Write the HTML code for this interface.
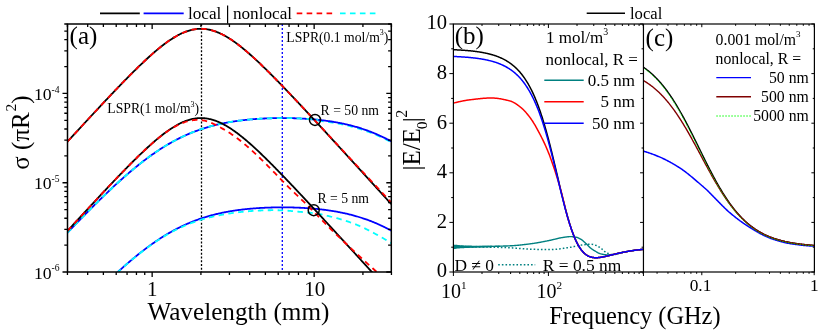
<!DOCTYPE html>
<html><head><meta charset="utf-8"><title>figure</title>
<style>html,body{margin:0;padding:0;background:#fff;}body{width:830px;height:333px;overflow:hidden;font-family:"Liberation Serif",serif;}svg text{font-family:"Liberation Serif",serif;}</style></head>
<body>
<svg width="830" height="333" viewBox="0 0 830 333" style="display:block;will-change:transform">
<rect x="0" y="0" width="830" height="333" fill="#fff"/>
<defs>
<clipPath id="ca"><rect x="67.50" y="24.00" width="323.80" height="248.00"/></clipPath>
<clipPath id="cb"><rect x="453.40" y="24.00" width="190.05" height="248.00"/></clipPath>
<clipPath id="cc"><rect x="643.45" y="24.00" width="170.95" height="248.00"/></clipPath>
</defs>
<g clip-path="url(#ca)" fill="none" stroke-linejoin="round">
<line x1="201.5" y1="24.0" x2="201.5" y2="272.0" stroke="#000" stroke-width="1.3" stroke-dasharray="2 1.75"/>
<line x1="282.3" y1="24.0" x2="282.3" y2="272.0" stroke="#0000ff" stroke-width="1.3" stroke-dasharray="2 2"/>
<path d="M67.50,321.96 L68.31,321.11 L69.12,320.26 L69.93,319.41 L70.75,318.56 L71.56,317.71 L72.37,316.87 L73.18,316.02 L73.99,315.18 L74.80,314.34 L75.62,313.49 L76.43,312.65 L77.24,311.81 L78.05,310.98 L78.86,310.14 L79.67,309.30 L80.48,308.47 L81.30,307.64 L82.11,306.80 L82.92,305.97 L83.73,305.14 L84.54,304.32 L85.35,303.49 L86.17,302.67 L86.98,301.84 L87.79,301.02 L88.60,300.20 L89.41,299.38 L90.22,298.56 L91.03,297.75 L91.85,296.93 L92.66,296.12 L93.47,295.31 L94.28,294.50 L95.09,293.70 L95.90,292.89 L96.72,292.09 L97.53,291.29 L98.34,290.49 L99.15,289.69 L99.96,288.90 L100.77,288.10 L101.58,287.31 L102.40,286.52 L103.21,285.74 L104.02,284.95 L104.83,284.17 L105.64,283.39 L106.45,282.61 L107.26,281.84 L108.08,281.07 L108.89,280.29 L109.70,279.53 L110.51,278.76 L111.32,278.00 L112.13,277.24 L112.95,276.48 L113.76,275.73 L114.57,274.97 L115.38,274.22 L116.19,273.48 L117.00,272.73 L117.81,271.99 L118.63,271.26 L119.44,270.52 L120.25,269.79 L121.06,269.06 L121.87,268.34 L122.68,267.61 L123.50,266.89 L124.31,266.18 L125.12,265.47 L125.93,264.76 L126.74,264.05 L127.55,263.35 L128.36,262.65 L129.18,261.95 L129.99,261.26 L130.80,260.58 L131.61,259.89 L132.42,259.21 L133.23,258.53 L134.05,257.86 L134.86,257.19 L135.67,256.53 L136.48,255.87 L137.29,255.21 L138.10,254.56 L138.91,253.91 L139.73,253.26 L140.54,252.62 L141.35,251.99 L142.16,251.35 L142.97,250.73 L143.78,250.10 L144.60,249.48 L145.41,248.87 L146.22,248.26 L147.03,247.65 L147.84,247.05 L148.65,246.45 L149.46,245.86 L150.28,245.28 L151.09,244.69 L151.90,244.11 L152.71,243.54 L153.52,242.97 L154.33,242.41 L155.15,241.85 L155.96,241.30 L156.77,240.75 L157.58,240.20 L158.39,239.67 L159.20,239.13 L160.01,238.60 L160.83,238.08 L161.64,237.56 L162.45,237.04 L163.26,236.54 L164.07,236.03 L164.88,235.53 L165.69,235.04 L166.51,234.55 L167.32,234.07 L168.13,233.59 L168.94,233.12 L169.75,232.65 L170.56,232.19 L171.38,231.73 L172.19,231.28 L173.00,230.83 L173.81,230.39 L174.62,229.95 L175.43,229.52 L176.24,229.09 L177.06,228.67 L177.87,228.26 L178.68,227.85 L179.49,227.44 L180.30,227.04 L181.11,226.65 L181.93,226.26 L182.74,225.87 L183.55,225.49 L184.36,225.12 L185.17,224.75 L185.98,224.38 L186.79,224.02 L187.61,223.67 L188.42,223.32 L189.23,222.97 L190.04,222.63 L190.85,222.30 L191.66,221.97 L192.48,221.64 L193.29,221.32 L194.10,221.01 L194.91,220.70 L195.72,220.39 L196.53,220.09 L197.34,219.80 L198.16,219.50 L198.97,219.22 L199.78,218.94 L200.59,218.66 L201.40,218.38 L202.21,218.12 L203.03,217.85 L203.84,217.59 L204.65,217.34 L205.46,217.08 L206.27,216.84 L207.08,216.59 L207.89,216.36 L208.71,216.12 L209.52,215.89 L210.33,215.67 L211.14,215.44 L211.95,215.23 L212.76,215.01 L213.58,214.80 L214.39,214.60 L215.20,214.39 L216.01,214.19 L216.82,214.00 L217.63,213.81 L218.44,213.62 L219.26,213.44 L220.07,213.26 L220.88,213.08 L221.69,212.91 L222.50,212.74 L223.31,212.57 L224.13,212.41 L224.94,212.25 L225.75,212.09 L226.56,211.94 L227.37,211.79 L228.18,211.64 L228.99,211.50 L229.81,211.36 L230.62,211.22 L231.43,211.09 L232.24,210.95 L233.05,210.83 L233.86,210.70 L234.67,210.58 L235.49,210.46 L236.30,210.34 L237.11,210.23 L237.92,210.11 L238.73,210.00 L239.54,209.90 L240.36,209.79 L241.17,209.69 L241.98,209.59 L242.79,209.50 L243.60,209.40 L244.41,209.31 L245.22,209.22 L246.04,209.14 L246.85,209.05 L247.66,208.97 L248.47,208.89 L249.28,208.82 L250.09,208.74 L250.91,208.67 L251.72,208.60 L252.53,208.53 L253.34,208.46 L254.15,208.40 L254.96,208.34 L255.77,208.28 L256.59,208.22 L257.40,208.16 L258.21,208.11 L259.02,208.06 L259.83,208.01 L260.64,207.96 L261.46,207.91 L262.27,207.87 L263.08,207.83 L263.89,207.79 L264.70,207.75 L265.51,207.71 L266.32,207.67 L267.14,207.64 L267.95,207.61 L268.76,207.58 L269.57,207.55 L270.38,207.53 L271.19,207.50 L272.01,207.48 L272.82,207.46 L273.63,207.44 L274.44,207.42 L275.25,207.41 L276.06,207.39 L276.87,207.38 L277.69,207.37 L278.50,207.36 L279.31,207.36 L280.12,207.35 L280.93,207.35 L281.74,207.34 L282.56,207.34 L283.37,207.35 L284.18,207.35 L284.99,207.35 L285.80,207.36 L286.61,207.37 L287.42,207.38 L288.24,207.39 L289.05,207.40 L289.86,207.42 L290.67,207.43 L291.48,207.45 L292.29,207.47 L293.11,207.49 L293.92,207.52 L294.73,207.54 L295.54,207.57 L296.35,207.60 L297.16,207.63 L297.97,207.66 L298.79,207.70 L299.60,207.73 L300.41,207.77 L301.22,207.81 L302.03,207.85 L302.84,207.89 L303.65,207.94 L304.47,207.99 L305.28,208.04 L306.09,208.09 L306.90,208.14 L307.71,208.20 L308.52,208.25 L309.34,208.31 L310.15,208.37 L310.96,208.44 L311.77,208.50 L312.58,208.57 L313.39,208.64 L314.20,208.71 L315.02,208.79 L315.83,208.86 L316.64,208.94 L317.45,209.02 L318.26,209.10 L319.07,209.19 L319.89,209.28 L320.70,209.37 L321.51,209.46 L322.32,209.56 L323.13,209.65 L323.94,209.75 L324.75,209.86 L325.57,209.96 L326.38,210.07 L327.19,210.18 L328.00,210.29 L328.81,210.41 L329.62,210.53 L330.44,210.65 L331.25,210.78 L332.06,210.90 L332.87,211.03 L333.68,211.17 L334.49,211.30 L335.30,211.44 L336.12,211.58 L336.93,211.73 L337.74,211.88 L338.55,212.03 L339.36,212.19 L340.17,212.34 L340.99,212.51 L341.80,212.67 L342.61,212.84 L343.42,213.01 L344.23,213.19 L345.04,213.36 L345.85,213.55 L346.67,213.73 L347.48,213.92 L348.29,214.12 L349.10,214.31 L349.91,214.51 L350.72,214.72 L351.54,214.93 L352.35,215.14 L353.16,215.36 L353.97,215.58 L354.78,215.80 L355.59,216.03 L356.40,216.26 L357.22,216.50 L358.03,216.74 L358.84,216.99 L359.65,217.24 L360.46,217.49 L361.27,217.75 L362.08,218.01 L362.90,218.28 L363.71,218.55 L364.52,218.82 L365.33,219.11 L366.14,219.39 L366.95,219.68 L367.77,219.97 L368.58,220.27 L369.39,220.58 L370.20,220.89 L371.01,221.20 L371.82,221.52 L372.63,221.84 L373.45,222.17 L374.26,222.50 L375.07,222.84 L375.88,223.18 L376.69,223.53 L377.50,223.88 L378.32,224.24 L379.13,224.60 L379.94,224.97 L380.75,225.34 L381.56,225.72 L382.37,226.10 L383.18,226.49 L384.00,226.88 L384.81,227.28 L385.62,227.69 L386.43,228.09 L387.24,228.51 L388.05,228.93 L388.87,229.35 L389.68,229.78 L390.49,230.21 L391.30,230.65" stroke="#0000ff" stroke-width="1.80" />
<path d="M67.50,321.96 L68.31,321.11 L69.12,320.26 L69.93,319.41 L70.75,318.57 L71.56,317.72 L72.37,316.87 L73.18,316.03 L73.99,315.19 L74.80,314.34 L75.62,313.50 L76.43,312.66 L77.24,311.82 L78.05,310.99 L78.86,310.15 L79.67,309.32 L80.48,308.48 L81.30,307.65 L82.11,306.82 L82.92,305.99 L83.73,305.16 L84.54,304.34 L85.35,303.51 L86.17,302.69 L86.98,301.87 L87.79,301.05 L88.60,300.23 L89.41,299.41 L90.22,298.59 L91.03,297.78 L91.85,296.97 L92.66,296.16 L93.47,295.35 L94.28,294.54 L95.09,293.74 L95.90,292.93 L96.72,292.13 L97.53,291.33 L98.34,290.54 L99.15,289.74 L99.96,288.95 L100.77,288.16 L101.58,287.37 L102.40,286.58 L103.21,285.80 L104.02,285.01 L104.83,284.23 L105.64,283.46 L106.45,282.68 L107.26,281.91 L108.08,281.14 L108.89,280.37 L109.70,279.60 L110.51,278.84 L111.32,278.08 L112.13,277.32 L112.95,276.57 L113.76,275.82 L114.57,275.07 L115.38,274.32 L116.19,273.58 L117.00,272.84 L117.81,272.10 L118.63,271.36 L119.44,270.63 L120.25,269.90 L121.06,269.18 L121.87,268.45 L122.68,267.74 L123.50,267.02 L124.31,266.31 L125.12,265.60 L125.93,264.89 L126.74,264.19 L127.55,263.49 L128.36,262.80 L129.18,262.10 L129.99,261.42 L130.80,260.73 L131.61,260.05 L132.42,259.37 L133.23,258.70 L134.05,258.03 L134.86,257.37 L135.67,256.70 L136.48,256.05 L137.29,255.39 L138.10,254.74 L138.91,254.10 L139.73,253.46 L140.54,252.82 L141.35,252.19 L142.16,251.56 L142.97,250.94 L143.78,250.32 L144.60,249.70 L145.41,249.09 L146.22,248.48 L147.03,247.88 L147.84,247.29 L148.65,246.69 L149.46,246.11 L150.28,245.52 L151.09,244.94 L151.90,244.37 L152.71,243.80 L153.52,243.24 L154.33,242.68 L155.15,242.12 L155.96,241.57 L156.77,241.03 L157.58,240.49 L158.39,239.96 L159.20,239.43 L160.01,238.90 L160.83,238.38 L161.64,237.87 L162.45,237.36 L163.26,236.86 L164.07,236.37 L164.88,235.88 L165.69,235.39 L166.51,234.92 L167.32,234.44 L168.13,233.98 L168.94,233.52 L169.75,233.06 L170.56,232.62 L171.38,232.17 L172.19,231.74 L173.00,231.31 L173.81,230.88 L174.62,230.46 L175.43,230.05 L176.24,229.64 L177.06,229.24 L177.87,228.84 L178.68,228.45 L179.49,228.07 L180.30,227.69 L181.11,227.32 L181.93,226.95 L182.74,226.58 L183.55,226.23 L184.36,225.88 L185.17,225.53 L185.98,225.19 L186.79,224.85 L187.61,224.52 L188.42,224.20 L189.23,223.88 L190.04,223.56 L190.85,223.26 L191.66,222.95 L192.48,222.65 L193.29,222.36 L194.10,222.07 L194.91,221.78 L195.72,221.50 L196.53,221.23 L197.34,220.96 L198.16,220.70 L198.97,220.44 L199.78,220.18 L200.59,219.93 L201.40,219.68 L202.21,219.44 L203.03,219.20 L203.84,218.97 L204.65,218.74 L205.46,218.51 L206.27,218.29 L207.08,218.08 L207.89,217.86 L208.71,217.65 L209.52,217.45 L210.33,217.25 L211.14,217.05 L211.95,216.86 L212.76,216.67 L213.58,216.48 L214.39,216.30 L215.20,216.12 L216.01,215.95 L216.82,215.77 L217.63,215.60 L218.44,215.44 L219.26,215.28 L220.07,215.12 L220.88,214.96 L221.69,214.81 L222.50,214.66 L223.31,214.51 L224.13,214.37 L224.94,214.22 L225.75,214.09 L226.56,213.95 L227.37,213.82 L228.18,213.69 L228.99,213.56 L229.81,213.43 L230.62,213.31 L231.43,213.19 L232.24,213.07 L233.05,212.96 L233.86,212.85 L234.67,212.74 L235.49,212.63 L236.30,212.53 L237.11,212.42 L237.92,212.32 L238.73,212.23 L239.54,212.13 L240.36,212.04 L241.17,211.95 L241.98,211.86 L242.79,211.78 L243.60,211.70 L244.41,211.62 L245.22,211.54 L246.04,211.46 L246.85,211.39 L247.66,211.32 L248.47,211.25 L249.28,211.18 L250.09,211.12 L250.91,211.06 L251.72,211.00 L252.53,210.94 L253.34,210.88 L254.15,210.83 L254.96,210.78 L255.77,210.73 L256.59,210.68 L257.40,210.64 L258.21,210.60 L259.02,210.56 L259.83,210.52 L260.64,210.49 L261.46,210.45 L262.27,210.42 L263.08,210.39 L263.89,210.37 L264.70,210.34 L265.51,210.32 L266.32,210.30 L267.14,210.28 L267.95,210.26 L268.76,210.25 L269.57,210.24 L270.38,210.23 L271.19,210.22 L272.01,210.22 L272.82,210.22 L273.63,210.22 L274.44,210.22 L275.25,210.22 L276.06,210.23 L276.87,210.24 L277.69,210.25 L278.50,210.26 L279.31,210.28 L280.12,210.29 L280.93,210.31 L281.74,210.34 L282.56,210.36 L283.37,210.40 L284.18,210.44 L284.99,210.48 L285.80,210.54 L286.61,210.60 L287.42,210.66 L288.24,210.73 L289.05,210.80 L289.86,210.87 L290.67,210.95 L291.48,211.03 L292.29,211.11 L293.11,211.19 L293.92,211.27 L294.73,211.35 L295.54,211.43 L296.35,211.51 L297.16,211.59 L297.97,211.66 L298.79,211.73 L299.60,211.80 L300.41,211.87 L301.22,211.94 L302.03,212.01 L302.84,212.08 L303.65,212.15 L304.47,212.23 L305.28,212.30 L306.09,212.37 L306.90,212.45 L307.71,212.53 L308.52,212.61 L309.34,212.69 L310.15,212.77 L310.96,212.86 L311.77,212.95 L312.58,213.05 L313.39,213.14 L314.20,213.24 L315.02,213.35 L315.83,213.46 L316.64,213.57 L317.45,213.69 L318.26,213.82 L319.07,213.95 L319.89,214.08 L320.70,214.23 L321.51,214.40 L322.32,214.59 L323.13,214.78 L323.94,214.98 L324.75,215.18 L325.57,215.38 L326.38,215.58 L327.19,215.77 L328.00,215.96 L328.81,216.16 L329.62,216.35 L330.44,216.55 L331.25,216.75 L332.06,216.95 L332.87,217.15 L333.68,217.36 L334.49,217.57 L335.30,217.78 L336.12,217.99 L336.93,218.21 L337.74,218.43 L338.55,218.66 L339.36,218.89 L340.17,219.12 L340.99,219.36 L341.80,219.60 L342.61,219.85 L343.42,220.10 L344.23,220.36 L345.04,220.61 L345.85,220.88 L346.67,221.14 L347.48,221.41 L348.29,221.69 L349.10,221.97 L349.91,222.25 L350.72,222.54 L351.54,222.83 L352.35,223.13 L353.16,223.43 L353.97,223.74 L354.78,224.05 L355.59,224.36 L356.40,224.69 L357.22,225.02 L358.03,225.35 L358.84,225.69 L359.65,226.04 L360.46,226.39 L361.27,226.76 L362.08,227.13 L362.90,227.51 L363.71,227.89 L364.52,228.28 L365.33,228.68 L366.14,229.08 L366.95,229.49 L367.77,229.90 L368.58,230.31 L369.39,230.73 L370.20,231.16 L371.01,231.58 L371.82,232.01 L372.63,232.44 L373.45,232.87 L374.26,233.30 L375.07,233.74 L375.88,234.17 L376.69,234.61 L377.50,235.05 L378.32,235.49 L379.13,235.94 L379.94,236.39 L380.75,236.85 L381.56,237.30 L382.37,237.77 L383.18,238.23 L384.00,238.70 L384.81,239.18 L385.62,239.66 L386.43,240.14 L387.24,240.63 L388.05,241.12 L388.87,241.62 L389.68,242.12 L390.49,242.63 L391.30,243.14" stroke="#00ffff" stroke-width="1.80" stroke-dasharray="5.5 4.4" />
<path d="M318.26,120.73 L319.07,120.82 L319.89,120.91 L320.70,121.00 L321.51,121.09 L322.32,121.19 L323.13,121.28 L323.94,121.38 L324.75,121.49 L325.57,121.59 L326.38,121.70 L327.19,121.81 L328.00,121.92 L328.81,122.04 L329.62,122.16 L330.44,122.28 L331.25,122.41 L332.06,122.53 L332.87,122.66 L333.68,122.80 L334.49,122.93 L335.30,123.07 L336.12,123.21 L336.93,123.36 L337.74,123.51 L338.55,123.66 L339.36,123.82 L340.17,123.97 L340.99,124.14 L341.80,124.30 L342.61,124.47 L343.42,124.64 L344.23,124.82 L345.04,124.99 L345.85,125.18 L346.67,125.36 L347.48,125.55 L348.29,125.75 L349.10,125.94 L349.91,126.14 L350.72,126.35 L351.54,126.56 L352.35,126.77 L353.16,126.99 L353.97,127.21 L354.78,127.43 L355.59,127.66 L356.40,127.89 L357.22,128.13 L358.03,128.37 L358.84,128.62 L359.65,128.87 L360.46,129.12 L361.27,129.38 L362.08,129.64 L362.90,129.91 L363.71,130.18 L364.52,130.45 L365.33,130.74 L366.14,131.02 L366.95,131.31 L367.77,131.60 L368.58,131.90 L369.39,132.21 L370.20,132.52 L371.01,132.83 L371.82,133.15 L372.63,133.47 L373.45,133.80 L374.26,134.13 L375.07,134.47 L375.88,134.81 L376.69,135.16 L377.50,135.51 L378.32,135.87 L379.13,136.23 L379.94,136.60 L380.75,136.97 L381.56,137.35 L382.37,137.73 L383.18,138.12 L384.00,138.51 L384.81,138.91 L385.62,139.32 L386.43,139.72 L387.24,140.14 L388.05,140.56 L388.87,140.98 L389.68,141.41 L390.49,141.84 L391.30,142.28" stroke="#00ffff" stroke-width="1.80" stroke-dasharray="5.5 4.4" />
<path d="M67.50,232.69 L68.31,231.84 L69.12,230.99 L69.93,230.14 L70.75,229.29 L71.56,228.44 L72.37,227.60 L73.18,226.75 L73.99,225.91 L74.80,225.07 L75.62,224.22 L76.43,223.38 L77.24,222.54 L78.05,221.71 L78.86,220.87 L79.67,220.03 L80.48,219.20 L81.30,218.37 L82.11,217.53 L82.92,216.70 L83.73,215.87 L84.54,215.05 L85.35,214.22 L86.17,213.40 L86.98,212.57 L87.79,211.75 L88.60,210.93 L89.41,210.11 L90.22,209.29 L91.03,208.48 L91.85,207.66 L92.66,206.85 L93.47,206.04 L94.28,205.23 L95.09,204.43 L95.90,203.62 L96.72,202.82 L97.53,202.02 L98.34,201.22 L99.15,200.42 L99.96,199.63 L100.77,198.83 L101.58,198.04 L102.40,197.25 L103.21,196.47 L104.02,195.68 L104.83,194.90 L105.64,194.12 L106.45,193.34 L107.26,192.57 L108.08,191.80 L108.89,191.02 L109.70,190.26 L110.51,189.49 L111.32,188.73 L112.13,187.97 L112.95,187.21 L113.76,186.46 L114.57,185.70 L115.38,184.95 L116.19,184.21 L117.00,183.46 L117.81,182.72 L118.63,181.99 L119.44,181.25 L120.25,180.52 L121.06,179.79 L121.87,179.07 L122.68,178.34 L123.50,177.62 L124.31,176.91 L125.12,176.20 L125.93,175.49 L126.74,174.78 L127.55,174.08 L128.36,173.38 L129.18,172.68 L129.99,171.99 L130.80,171.31 L131.61,170.62 L132.42,169.94 L133.23,169.26 L134.05,168.59 L134.86,167.92 L135.67,167.26 L136.48,166.60 L137.29,165.94 L138.10,165.29 L138.91,164.64 L139.73,163.99 L140.54,163.35 L141.35,162.72 L142.16,162.08 L142.97,161.46 L143.78,160.83 L144.60,160.21 L145.41,159.60 L146.22,158.99 L147.03,158.38 L147.84,157.78 L148.65,157.18 L149.46,156.59 L150.28,156.01 L151.09,155.42 L151.90,154.84 L152.71,154.27 L153.52,153.70 L154.33,153.14 L155.15,152.58 L155.96,152.03 L156.77,151.48 L157.58,150.93 L158.39,150.40 L159.20,149.86 L160.01,149.33 L160.83,148.81 L161.64,148.29 L162.45,147.77 L163.26,147.27 L164.07,146.76 L164.88,146.26 L165.69,145.77 L166.51,145.28 L167.32,144.80 L168.13,144.32 L168.94,143.85 L169.75,143.38 L170.56,142.92 L171.38,142.46 L172.19,142.01 L173.00,141.56 L173.81,141.12 L174.62,140.68 L175.43,140.25 L176.24,139.82 L177.06,139.40 L177.87,138.99 L178.68,138.58 L179.49,138.17 L180.30,137.77 L181.11,137.38 L181.93,136.99 L182.74,136.60 L183.55,136.22 L184.36,135.85 L185.17,135.48 L185.98,135.11 L186.79,134.75 L187.61,134.40 L188.42,134.05 L189.23,133.70 L190.04,133.36 L190.85,133.03 L191.66,132.70 L192.48,132.37 L193.29,132.05 L194.10,131.74 L194.91,131.43 L195.72,131.12 L196.53,130.82 L197.34,130.53 L198.16,130.23 L198.97,129.95 L199.78,129.67 L200.59,129.39 L201.40,129.11 L202.21,128.85 L203.03,128.58 L203.84,128.32 L204.65,128.07 L205.46,127.81 L206.27,127.57 L207.08,127.32 L207.89,127.09 L208.71,126.85 L209.52,126.62 L210.33,126.40 L211.14,126.17 L211.95,125.96 L212.76,125.74 L213.58,125.53 L214.39,125.33 L215.20,125.12 L216.01,124.92 L216.82,124.73 L217.63,124.54 L218.44,124.35 L219.26,124.17 L220.07,123.99 L220.88,123.81 L221.69,123.64 L222.50,123.47 L223.31,123.30 L224.13,123.14 L224.94,122.98 L225.75,122.82 L226.56,122.67 L227.37,122.52 L228.18,122.37 L228.99,122.23 L229.81,122.09 L230.62,121.95 L231.43,121.82 L232.24,121.68 L233.05,121.56 L233.86,121.43 L234.67,121.31 L235.49,121.19 L236.30,121.07 L237.11,120.96 L237.92,120.84 L238.73,120.73 L239.54,120.63 L240.36,120.52 L241.17,120.42 L241.98,120.32 L242.79,120.23 L243.60,120.13 L244.41,120.04 L245.22,119.95 L246.04,119.87 L246.85,119.78 L247.66,119.70 L248.47,119.62 L249.28,119.55 L250.09,119.47 L250.91,119.40 L251.72,119.33 L252.53,119.26 L253.34,119.19 L254.15,119.13 L254.96,119.07 L255.77,119.01 L256.59,118.95 L257.40,118.89 L258.21,118.84 L259.02,118.79 L259.83,118.74 L260.64,118.69 L261.46,118.64 L262.27,118.60 L263.08,118.56 L263.89,118.52 L264.70,118.48 L265.51,118.44 L266.32,118.40 L267.14,118.37 L267.95,118.34 L268.76,118.31 L269.57,118.28 L270.38,118.26 L271.19,118.23 L272.01,118.21 L272.82,118.19 L273.63,118.17 L274.44,118.15 L275.25,118.14 L276.06,118.12 L276.87,118.11 L277.69,118.10 L278.50,118.09 L279.31,118.09 L280.12,118.08 L280.93,118.08 L281.74,118.07 L282.56,118.07 L283.37,118.08 L284.18,118.08 L284.99,118.08 L285.80,118.09 L286.61,118.10 L287.42,118.11 L288.24,118.12 L289.05,118.13 L289.86,118.15 L290.67,118.16 L291.48,118.18 L292.29,118.20 L293.11,118.22 L293.92,118.25 L294.73,118.27 L295.54,118.30 L296.35,118.33 L297.16,118.36 L297.97,118.39 L298.79,118.43 L299.60,118.46 L300.41,118.50 L301.22,118.54 L302.03,118.58 L302.84,118.62 L303.65,118.67 L304.47,118.72 L305.28,118.77 L306.09,118.82 L306.90,118.87 L307.71,118.93 L308.52,118.98 L309.34,119.04 L310.15,119.10 L310.96,119.17 L311.77,119.23 L312.58,119.30 L313.39,119.37 L314.20,119.44 L315.02,119.52 L315.83,119.59 L316.64,119.67 L317.45,119.75 L318.26,119.83 L319.07,119.92 L319.89,120.01 L320.70,120.10 L321.51,120.19 L322.32,120.29 L323.13,120.38 L323.94,120.48 L324.75,120.59 L325.57,120.69 L326.38,120.80 L327.19,120.91 L328.00,121.02 L328.81,121.14 L329.62,121.26 L330.44,121.38 L331.25,121.51 L332.06,121.63 L332.87,121.76 L333.68,121.90 L334.49,122.03 L335.30,122.17 L336.12,122.31 L336.93,122.46 L337.74,122.61 L338.55,122.76 L339.36,122.92 L340.17,123.07 L340.99,123.24 L341.80,123.40 L342.61,123.57 L343.42,123.74 L344.23,123.92 L345.04,124.09 L345.85,124.28 L346.67,124.46 L347.48,124.65 L348.29,124.85 L349.10,125.04 L349.91,125.24 L350.72,125.45 L351.54,125.66 L352.35,125.87 L353.16,126.09 L353.97,126.31 L354.78,126.53 L355.59,126.76 L356.40,126.99 L357.22,127.23 L358.03,127.47 L358.84,127.72 L359.65,127.97 L360.46,128.22 L361.27,128.48 L362.08,128.74 L362.90,129.01 L363.71,129.28 L364.52,129.55 L365.33,129.84 L366.14,130.12 L366.95,130.41 L367.77,130.70 L368.58,131.00 L369.39,131.31 L370.20,131.62 L371.01,131.93 L371.82,132.25 L372.63,132.57 L373.45,132.90 L374.26,133.23 L375.07,133.57 L375.88,133.91 L376.69,134.26 L377.50,134.61 L378.32,134.97 L379.13,135.33 L379.94,135.70 L380.75,136.07 L381.56,136.45 L382.37,136.83 L383.18,137.22 L384.00,137.61 L384.81,138.01 L385.62,138.42 L386.43,138.82 L387.24,139.24 L388.05,139.66 L388.87,140.08 L389.68,140.51 L390.49,140.94 L391.30,141.38" stroke="#0000ff" stroke-width="1.80" />
<path d="M67.50,232.69 L68.31,231.84 L69.12,230.99 L69.93,230.14 L70.75,229.29 L71.56,228.44 L72.37,227.60 L73.18,226.75 L73.99,225.91 L74.80,225.07 L75.62,224.22 L76.43,223.38 L77.24,222.54 L78.05,221.71 L78.86,220.87 L79.67,220.03 L80.48,219.20 L81.30,218.37 L82.11,217.53 L82.92,216.70 L83.73,215.87 L84.54,215.05 L85.35,214.22 L86.17,213.40 L86.98,212.57 L87.79,211.75 L88.60,210.93 L89.41,210.11 L90.22,209.29 L91.03,208.48 L91.85,207.66 L92.66,206.85 L93.47,206.04 L94.28,205.23 L95.09,204.43 L95.90,203.62 L96.72,202.82 L97.53,202.02 L98.34,201.22 L99.15,200.42 L99.96,199.63 L100.77,198.83 L101.58,198.04 L102.40,197.25 L103.21,196.47 L104.02,195.68 L104.83,194.90 L105.64,194.12 L106.45,193.34 L107.26,192.57 L108.08,191.80 L108.89,191.02 L109.70,190.26 L110.51,189.49 L111.32,188.73 L112.13,187.97 L112.95,187.21 L113.76,186.46 L114.57,185.70 L115.38,184.95 L116.19,184.21 L117.00,183.46 L117.81,182.72 L118.63,181.99 L119.44,181.25 L120.25,180.52 L121.06,179.79 L121.87,179.07 L122.68,178.34 L123.50,177.62 L124.31,176.91 L125.12,176.20 L125.93,175.49 L126.74,174.78 L127.55,174.08 L128.36,173.38 L129.18,172.68 L129.99,171.99 L130.80,171.31 L131.61,170.62 L132.42,169.94 L133.23,169.26 L134.05,168.59 L134.86,167.92 L135.67,167.26 L136.48,166.60 L137.29,165.94 L138.10,165.29 L138.91,164.64 L139.73,163.99 L140.54,163.35 L141.35,162.72 L142.16,162.08 L142.97,161.46 L143.78,160.83 L144.60,160.21 L145.41,159.60 L146.22,158.99 L147.03,158.38 L147.84,157.78 L148.65,157.18 L149.46,156.59 L150.28,156.01 L151.09,155.42 L151.90,154.84 L152.71,154.27 L153.52,153.70 L154.33,153.14 L155.15,152.58 L155.96,152.03 L156.77,151.48 L157.58,150.93 L158.39,150.40 L159.20,149.86 L160.01,149.33 L160.83,148.81 L161.64,148.29 L162.45,147.77 L163.26,147.27 L164.07,146.76 L164.88,146.26 L165.69,145.77 L166.51,145.28 L167.32,144.80 L168.13,144.32 L168.94,143.85 L169.75,143.38 L170.56,142.92 L171.38,142.46 L172.19,142.01 L173.00,141.56 L173.81,141.12 L174.62,140.68 L175.43,140.25 L176.24,139.82 L177.06,139.40 L177.87,138.99 L178.68,138.58 L179.49,138.17 L180.30,137.77 L181.11,137.38 L181.93,136.99 L182.74,136.60 L183.55,136.22 L184.36,135.85 L185.17,135.48 L185.98,135.11 L186.79,134.75 L187.61,134.40 L188.42,134.05 L189.23,133.70 L190.04,133.36 L190.85,133.03 L191.66,132.70 L192.48,132.37 L193.29,132.05 L194.10,131.74 L194.91,131.43 L195.72,131.12 L196.53,130.82 L197.34,130.53 L198.16,130.23 L198.97,129.95 L199.78,129.67 L200.59,129.39 L201.40,129.11 L202.21,128.85 L203.03,128.58 L203.84,128.32 L204.65,128.07 L205.46,127.81 L206.27,127.57 L207.08,127.32 L207.89,127.09 L208.71,126.85 L209.52,126.62 L210.33,126.40 L211.14,126.17 L211.95,125.96 L212.76,125.74 L213.58,125.53 L214.39,125.33 L215.20,125.12 L216.01,124.92 L216.82,124.73 L217.63,124.54 L218.44,124.35 L219.26,124.17 L220.07,123.99 L220.88,123.81 L221.69,123.64 L222.50,123.47 L223.31,123.30 L224.13,123.14 L224.94,122.98 L225.75,122.82 L226.56,122.67 L227.37,122.52 L228.18,122.37 L228.99,122.23 L229.81,122.09 L230.62,121.95 L231.43,121.82 L232.24,121.68 L233.05,121.56 L233.86,121.43 L234.67,121.31 L235.49,121.19 L236.30,121.07 L237.11,120.96 L237.92,120.84 L238.73,120.73 L239.54,120.63 L240.36,120.52 L241.17,120.42 L241.98,120.32 L242.79,120.23 L243.60,120.13 L244.41,120.04 L245.22,119.95 L246.04,119.87 L246.85,119.78 L247.66,119.70 L248.47,119.62 L249.28,119.55 L250.09,119.47 L250.91,119.40 L251.72,119.33 L252.53,119.26 L253.34,119.19 L254.15,119.13 L254.96,119.07 L255.77,119.01 L256.59,118.95 L257.40,118.89 L258.21,118.84 L259.02,118.79 L259.83,118.74 L260.64,118.69 L261.46,118.64 L262.27,118.60 L263.08,118.56 L263.89,118.52 L264.70,118.48 L265.51,118.44 L266.32,118.40 L267.14,118.37 L267.95,118.34 L268.76,118.31 L269.57,118.28 L270.38,118.26 L271.19,118.23 L272.01,118.21 L272.82,118.19 L273.63,118.17 L274.44,118.15 L275.25,118.14 L276.06,118.12 L276.87,118.11 L277.69,118.10 L278.50,118.09 L279.31,118.09 L280.12,118.08 L280.93,118.08 L281.74,118.07 L282.56,118.07 L283.37,118.08 L284.18,118.08 L284.99,118.08 L285.80,118.09 L286.61,118.10 L287.42,118.11 L288.24,118.12 L289.05,118.13 L289.86,118.15 L290.67,118.16 L291.48,118.18 L292.29,118.20 L293.11,118.22 L293.92,118.25 L294.73,118.27 L295.54,118.30 L296.35,118.33 L297.16,118.36 L297.97,118.39 L298.79,118.43 L299.60,118.46 L300.41,118.50 L301.22,118.54 L302.03,118.58 L302.84,118.62 L303.65,118.67 L304.47,118.72 L305.28,118.77 L306.09,118.82 L306.90,118.87 L307.71,118.93 L308.52,118.98 L309.34,119.04 L310.15,119.10 L310.96,119.17 L311.77,119.23 L312.58,119.30 L313.39,119.37 L314.20,119.44 L315.02,119.52 L315.83,119.59 L316.64,119.67 L317.45,119.75 L318.26,119.83" stroke="#00ffff" stroke-width="1.80" stroke-dasharray="5.5 4.4" />
<path d="M67.50,230.91 L68.31,230.03 L69.12,229.14 L69.93,228.26 L70.75,227.37 L71.56,226.49 L72.37,225.61 L73.18,224.72 L73.99,223.84 L74.80,222.96 L75.62,222.08 L76.43,221.20 L77.24,220.31 L78.05,219.43 L78.86,218.55 L79.67,217.67 L80.48,216.79 L81.30,215.91 L82.11,215.03 L82.92,214.15 L83.73,213.28 L84.54,212.40 L85.35,211.52 L86.17,210.64 L86.98,209.77 L87.79,208.89 L88.60,208.01 L89.41,207.14 L90.22,206.26 L91.03,205.39 L91.85,204.52 L92.66,203.64 L93.47,202.77 L94.28,201.90 L95.09,201.03 L95.90,200.16 L96.72,199.29 L97.53,198.42 L98.34,197.55 L99.15,196.68 L99.96,195.81 L100.77,194.95 L101.58,194.08 L102.40,193.21 L103.21,192.35 L104.02,191.49 L104.83,190.62 L105.64,189.76 L106.45,188.90 L107.26,188.04 L108.08,187.18 L108.89,186.33 L109.70,185.47 L110.51,184.61 L111.32,183.76 L112.13,182.90 L112.95,182.05 L113.76,181.20 L114.57,180.35 L115.38,179.50 L116.19,178.65 L117.00,177.81 L117.81,176.96 L118.63,176.12 L119.44,175.28 L120.25,174.44 L121.06,173.60 L121.87,172.76 L122.68,171.93 L123.50,171.10 L124.31,170.26 L125.12,169.43 L125.93,168.61 L126.74,167.78 L127.55,166.96 L128.36,166.13 L129.18,165.32 L129.99,164.50 L130.80,163.68 L131.61,162.87 L132.42,162.06 L133.23,161.25 L134.05,160.45 L134.86,159.65 L135.67,158.85 L136.48,158.05 L137.29,157.26 L138.10,156.47 L138.91,155.68 L139.73,154.90 L140.54,154.12 L141.35,153.34 L142.16,152.57 L142.97,151.80 L143.78,151.03 L144.60,150.27 L145.41,149.51 L146.22,148.76 L147.03,148.01 L147.84,147.27 L148.65,146.53 L149.46,145.79 L150.28,145.06 L151.09,144.34 L151.90,143.62 L152.71,142.90 L153.52,142.20 L154.33,141.49 L155.15,140.80 L155.96,140.11 L156.77,139.42 L157.58,138.75 L158.39,138.07 L159.20,137.41 L160.01,136.75 L160.83,136.10 L161.64,135.46 L162.45,134.83 L163.26,134.20 L164.07,133.58 L164.88,132.98 L165.69,132.37 L166.51,131.78 L167.32,131.20 L168.13,130.63 L168.94,130.06 L169.75,129.51 L170.56,128.96 L171.38,128.43 L172.19,127.91 L173.00,127.40 L173.81,126.89 L174.62,126.40 L175.43,125.93 L176.24,125.46 L177.06,125.01 L177.87,124.56 L178.68,124.13 L179.49,123.72 L180.30,123.31 L181.11,122.92 L181.93,122.55 L182.74,122.18 L183.55,121.84 L184.36,121.50 L185.17,121.18 L185.98,120.88 L186.79,120.58 L187.61,120.31 L188.42,120.05 L189.23,119.80 L190.04,119.57 L190.85,119.36 L191.66,119.16 L192.48,118.98 L193.29,118.82 L194.10,118.67 L194.91,118.54 L195.72,118.42 L196.53,118.32 L197.34,118.24 L198.16,118.17 L198.97,118.12 L199.78,118.09 L200.59,118.08 L201.40,118.08 L202.21,118.10 L203.03,118.13 L203.84,118.18 L204.65,118.25 L205.46,118.34 L206.27,118.44 L207.08,118.56 L207.89,118.70 L208.71,118.85 L209.52,119.02 L210.33,119.20 L211.14,119.40 L211.95,119.62 L212.76,119.85 L213.58,120.10 L214.39,120.36 L215.20,120.64 L216.01,120.93 L216.82,121.24 L217.63,121.57 L218.44,121.90 L219.26,122.25 L220.07,122.62 L220.88,123.00 L221.69,123.39 L222.50,123.80 L223.31,124.22 L224.13,124.65 L224.94,125.09 L225.75,125.55 L226.56,126.02 L227.37,126.50 L228.18,126.99 L228.99,127.50 L229.81,128.01 L230.62,128.53 L231.43,129.07 L232.24,129.62 L233.05,130.17 L233.86,130.74 L234.67,131.31 L235.49,131.90 L236.30,132.49 L237.11,133.09 L237.92,133.71 L238.73,134.33 L239.54,134.95 L240.36,135.59 L241.17,136.23 L241.98,136.88 L242.79,137.54 L243.60,138.21 L244.41,138.88 L245.22,139.56 L246.04,140.24 L246.85,140.93 L247.66,141.63 L248.47,142.33 L249.28,143.04 L250.09,143.76 L250.91,144.48 L251.72,145.20 L252.53,145.94 L253.34,146.67 L254.15,147.41 L254.96,148.16 L255.77,148.91 L256.59,149.66 L257.40,150.42 L258.21,151.18 L259.02,151.95 L259.83,152.72 L260.64,153.49 L261.46,154.27 L262.27,155.05 L263.08,155.83 L263.89,156.62 L264.70,157.41 L265.51,158.21 L266.32,159.00 L267.14,159.80 L267.95,160.61 L268.76,161.41 L269.57,162.22 L270.38,163.03 L271.19,163.84 L272.01,164.66 L272.82,165.48 L273.63,166.30 L274.44,167.12 L275.25,167.94 L276.06,168.77 L276.87,169.60 L277.69,170.43 L278.50,171.26 L279.31,172.09 L280.12,172.93 L280.93,173.77 L281.74,174.60 L282.56,175.44 L283.37,176.29 L284.18,177.13 L284.99,177.97 L285.80,178.82 L286.61,179.67 L287.42,180.52 L288.24,181.37 L289.05,182.22 L289.86,183.07 L290.67,183.93 L291.48,184.78 L292.29,185.64 L293.11,186.49 L293.92,187.35 L294.73,188.21 L295.54,189.07 L296.35,189.93 L297.16,190.79 L297.97,191.66 L298.79,192.52 L299.60,193.38 L300.41,194.25 L301.22,195.12 L302.03,195.98 L302.84,196.85 L303.65,197.72 L304.47,198.59 L305.28,199.46 L306.09,200.33 L306.90,201.20 L307.71,202.07 L308.52,202.94 L309.34,203.81 L310.15,204.69 L310.96,205.56 L311.77,206.44 L312.58,207.31 L313.39,208.19 L314.20,209.06 L315.02,209.94 L315.83,210.82 L316.64,211.69 L317.45,212.57 L318.26,213.45 L319.07,214.33 L319.89,215.21 L320.70,216.09 L321.51,216.96 L322.32,217.84 L323.13,218.73 L323.94,219.61 L324.75,220.49 L325.57,221.37 L326.38,222.25 L327.19,223.13 L328.00,224.02 L328.81,224.90 L329.62,225.78 L330.44,226.66 L331.25,227.55 L332.06,228.43 L332.87,229.32 L333.68,230.20 L334.49,231.08 L335.30,231.97 L336.12,232.85 L336.93,233.74 L337.74,234.63 L338.55,235.51 L339.36,236.40 L340.17,237.28 L340.99,238.17 L341.80,239.06 L342.61,239.94 L343.42,240.83 L344.23,241.72 L345.04,242.60 L345.85,243.49 L346.67,244.38 L347.48,245.27 L348.29,246.16 L349.10,247.04 L349.91,247.93 L350.72,248.82 L351.54,249.71 L352.35,250.60 L353.16,251.49 L353.97,252.38 L354.78,253.26 L355.59,254.15 L356.40,255.04 L357.22,255.93 L358.03,256.82 L358.84,257.71 L359.65,258.60 L360.46,259.49 L361.27,260.38 L362.08,261.27 L362.90,262.16 L363.71,263.05 L364.52,263.94 L365.33,264.83 L366.14,265.72 L366.95,266.61 L367.77,267.50 L368.58,268.40 L369.39,269.29 L370.20,270.18 L371.01,271.07 L371.82,271.96 L372.63,272.85 L373.45,273.74 L374.26,274.63 L375.07,275.53 L375.88,276.42 L376.69,277.31 L377.50,278.20 L378.32,279.09 L379.13,279.98 L379.94,280.88 L380.75,281.77 L381.56,282.66 L382.37,283.55 L383.18,284.44 L384.00,285.34 L384.81,286.23 L385.62,287.12 L386.43,288.01 L387.24,288.90 L388.05,289.80 L388.87,290.69 L389.68,291.58 L390.49,292.47 L391.30,293.37" stroke="#000" stroke-width="1.80" />
<path d="M67.50,230.91 L68.31,230.03 L69.12,229.14 L69.93,228.26 L70.75,227.37 L71.56,226.49 L72.37,225.61 L73.18,224.72 L73.99,223.84 L74.80,222.96 L75.62,222.08 L76.43,221.20 L77.24,220.31 L78.05,219.43 L78.86,218.55 L79.67,217.67 L80.48,216.79 L81.30,215.91 L82.11,215.03 L82.92,214.15 L83.73,213.28 L84.54,212.40 L85.35,211.52 L86.17,210.64 L86.98,209.77 L87.79,208.89 L88.60,208.01 L89.41,207.14 L90.22,206.26 L91.03,205.39 L91.85,204.52 L92.66,203.64 L93.47,202.77 L94.28,201.90 L95.09,201.03 L95.90,200.16 L96.72,199.29 L97.53,198.42 L98.34,197.55 L99.15,196.68 L99.96,195.81 L100.77,194.95 L101.58,194.08 L102.40,193.21 L103.21,192.35 L104.02,191.49 L104.83,190.62 L105.64,189.76 L106.45,188.90 L107.26,188.04 L108.08,187.18 L108.89,186.33 L109.70,185.47 L110.51,184.61 L111.32,183.76 L112.13,182.90 L112.95,182.05 L113.76,181.20 L114.57,180.35 L115.38,179.50 L116.19,178.65 L117.00,177.81 L117.81,176.96 L118.63,176.12 L119.44,175.28 L120.25,174.44 L121.06,173.60 L121.87,172.76 L122.68,171.93 L123.50,171.10 L124.31,170.26 L125.12,169.43 L125.93,168.61 L126.74,167.78 L127.55,166.96 L128.36,166.13 L129.18,165.32 L129.99,164.50 L130.80,163.68 L131.61,162.87 L132.42,162.06 L133.23,161.25 L134.05,160.45 L134.86,159.65 L135.67,158.85 L136.48,158.05 L137.29,157.26 L138.10,156.47 L138.91,155.68 L139.73,154.90 L140.54,154.12 L141.35,153.34 L142.16,152.57 L142.97,151.80 L143.78,151.03 L144.60,150.27 L145.41,149.51 L146.22,148.76 L147.03,148.01 L147.84,147.27 L148.65,146.53 L149.46,145.79 L150.28,145.06 L151.09,144.34 L151.90,143.62 L152.71,142.91 L153.52,142.21 L154.33,141.51 L155.15,140.82 L155.96,140.14 L156.77,139.46 L157.58,138.80 L158.39,138.14 L159.20,137.48 L160.01,136.84 L160.83,136.20 L161.64,135.58 L162.45,134.96 L163.26,134.35 L164.07,133.75 L164.88,133.15 L165.69,132.57 L166.51,132.00 L167.32,131.43 L168.13,130.88 L168.94,130.34 L169.75,129.81 L170.56,129.28 L171.38,128.77 L172.19,128.27 L173.00,127.78 L173.81,127.30 L174.62,126.84 L175.43,126.38 L176.24,125.94 L177.06,125.51 L177.87,125.10 L178.68,124.69 L179.49,124.30 L180.30,123.92 L181.11,123.56 L181.93,123.22 L182.74,122.89 L183.55,122.58 L184.36,122.28 L185.17,122.01 L185.98,121.75 L186.79,121.50 L187.61,121.28 L188.42,121.07 L189.23,120.88 L190.04,120.70 L190.85,120.55 L191.66,120.41 L192.48,120.28 L193.29,120.18 L194.10,120.09 L194.91,120.02 L195.72,119.97 L196.53,119.94 L197.34,119.92 L198.16,119.92 L198.97,119.94 L199.78,119.98 L200.59,120.04 L201.40,120.13 L202.21,120.24 L203.03,120.38 L203.84,120.53 L204.65,120.71 L205.46,120.91 L206.27,121.13 L207.08,121.37 L207.89,121.63 L208.71,121.91 L209.52,122.20 L210.33,122.51 L211.14,122.84 L211.95,123.18 L212.76,123.54 L213.58,123.91 L214.39,124.29 L215.20,124.68 L216.01,125.09 L216.82,125.51 L217.63,125.93 L218.44,126.37 L219.26,126.81 L220.07,127.26 L220.88,127.72 L221.69,128.18 L222.50,128.65 L223.31,129.12 L224.13,129.59 L224.94,130.07 L225.75,130.55 L226.56,131.03 L227.37,131.52 L228.18,132.02 L228.99,132.53 L229.81,133.05 L230.62,133.59 L231.43,134.13 L232.24,134.68 L233.05,135.24 L233.86,135.82 L234.67,136.40 L235.49,136.99 L236.30,137.59 L237.11,138.19 L237.92,138.81 L238.73,139.43 L239.54,140.06 L240.36,140.70 L241.17,141.35 L241.98,142.01 L242.79,142.67 L243.60,143.34 L244.41,144.01 L245.22,144.70 L246.04,145.39 L246.85,146.08 L247.66,146.78 L248.47,147.49 L249.28,148.21 L250.09,148.93 L250.91,149.65 L251.72,150.38 L252.53,151.12 L253.34,151.86 L254.15,152.61 L254.96,153.37 L255.77,154.13 L256.59,154.89 L257.40,155.66 L258.21,156.43 L259.02,157.21 L259.83,158.00 L260.64,158.78 L261.46,159.58 L262.27,160.37 L263.08,161.17 L263.89,161.97 L264.70,162.78 L265.51,163.59 L266.32,164.40 L267.14,165.22 L267.95,166.04 L268.76,166.86 L269.57,167.68 L270.38,168.50 L271.19,169.33 L272.01,170.16 L272.82,170.99 L273.63,171.82 L274.44,172.66 L275.25,173.49 L276.06,174.33 L276.87,175.17 L277.69,176.00 L278.50,176.84 L279.31,177.68 L280.12,178.52 L280.93,179.36 L281.74,180.20 L282.56,181.04 L283.37,181.88 L284.18,182.71 L284.99,183.53 L285.80,184.35 L286.61,185.16 L287.42,185.97 L288.24,186.77 L289.05,187.57 L289.86,188.37 L290.67,189.16 L291.48,189.95 L292.29,190.73 L293.11,191.52 L293.92,192.30 L294.73,193.08 L295.54,193.86 L296.35,194.63 L297.16,195.41 L297.97,196.19 L298.79,196.96 L299.60,197.74 L300.41,198.51 L301.22,199.29 L302.03,200.07 L302.84,200.85 L303.65,201.63 L304.47,202.42 L305.28,203.21 L306.09,204.00 L306.90,204.79 L307.71,205.59 L308.52,206.39 L309.34,207.20 L310.15,208.01 L310.96,208.83 L311.77,209.65 L312.58,210.47 L313.39,211.30 L314.20,212.13 L315.02,212.96 L315.83,213.79 L316.64,214.62 L317.45,215.45 L318.26,216.29 L319.07,217.12 L319.89,217.96 L320.70,218.80 L321.51,219.63 L322.32,220.47 L323.13,221.30 L323.94,222.14 L324.75,222.97 L325.57,223.80 L326.38,224.64 L327.19,225.46 L328.00,226.29 L328.81,227.11 L329.62,227.94 L330.44,228.75 L331.25,229.57 L332.06,230.38 L332.87,231.18 L333.68,231.98 L334.49,232.77 L335.30,233.56 L336.12,234.34 L336.93,235.11 L337.74,235.88 L338.55,236.65 L339.36,237.41 L340.17,238.18 L340.99,238.94 L341.80,239.70 L342.61,240.46 L343.42,241.22 L344.23,241.98 L345.04,242.75 L345.85,243.51 L346.67,244.28 L347.48,245.05 L348.29,245.82 L349.10,246.58 L349.91,247.35 L350.72,248.11 L351.54,248.88 L352.35,249.64 L353.16,250.41 L353.97,251.17 L354.78,251.93 L355.59,252.69 L356.40,253.45 L357.22,254.21 L358.03,254.96 L358.84,255.72 L359.65,256.48 L360.46,257.23 L361.27,257.98 L362.08,258.73 L362.90,259.48 L363.71,260.23 L364.52,260.97 L365.33,261.71 L366.14,262.44 L366.95,263.18 L367.77,263.91 L368.58,264.64 L369.39,265.37 L370.20,266.10 L371.01,266.82 L371.82,267.55 L372.63,268.28 L373.45,269.01 L374.26,269.74 L375.07,270.47 L375.88,271.21 L376.69,271.95 L377.50,272.69 L378.32,273.43 L379.13,274.17 L379.94,274.91 L380.75,275.66 L381.56,276.40 L382.37,277.14 L383.18,277.89 L384.00,278.63 L384.81,279.38 L385.62,280.12 L386.43,280.87 L387.24,281.62 L388.05,282.36 L388.87,283.11 L389.68,283.86 L390.49,284.61 L391.30,285.36" stroke="#ff0000" stroke-width="1.80" stroke-dasharray="5.5 4.4" />
<path d="M67.50,141.64 L68.31,140.76 L69.12,139.87 L69.93,138.99 L70.75,138.10 L71.56,137.22 L72.37,136.34 L73.18,135.45 L73.99,134.57 L74.80,133.69 L75.62,132.81 L76.43,131.93 L77.24,131.04 L78.05,130.16 L78.86,129.28 L79.67,128.40 L80.48,127.52 L81.30,126.64 L82.11,125.76 L82.92,124.88 L83.73,124.01 L84.54,123.13 L85.35,122.25 L86.17,121.37 L86.98,120.50 L87.79,119.62 L88.60,118.74 L89.41,117.87 L90.22,116.99 L91.03,116.12 L91.85,115.25 L92.66,114.37 L93.47,113.50 L94.28,112.63 L95.09,111.76 L95.90,110.89 L96.72,110.02 L97.53,109.15 L98.34,108.28 L99.15,107.41 L99.96,106.54 L100.77,105.68 L101.58,104.81 L102.40,103.94 L103.21,103.08 L104.02,102.22 L104.83,101.35 L105.64,100.49 L106.45,99.63 L107.26,98.77 L108.08,97.91 L108.89,97.06 L109.70,96.20 L110.51,95.34 L111.32,94.49 L112.13,93.63 L112.95,92.78 L113.76,91.93 L114.57,91.08 L115.38,90.23 L116.19,89.38 L117.00,88.54 L117.81,87.69 L118.63,86.85 L119.44,86.01 L120.25,85.17 L121.06,84.33 L121.87,83.49 L122.68,82.66 L123.50,81.83 L124.31,80.99 L125.12,80.16 L125.93,79.34 L126.74,78.51 L127.55,77.69 L128.36,76.86 L129.18,76.05 L129.99,75.23 L130.80,74.41 L131.61,73.60 L132.42,72.79 L133.23,71.98 L134.05,71.18 L134.86,70.38 L135.67,69.58 L136.48,68.78 L137.29,67.99 L138.10,67.20 L138.91,66.41 L139.73,65.63 L140.54,64.85 L141.35,64.07 L142.16,63.30 L142.97,62.53 L143.78,61.76 L144.60,61.00 L145.41,60.24 L146.22,59.49 L147.03,58.74 L147.84,58.00 L148.65,57.26 L149.46,56.52 L150.28,55.79 L151.09,55.07 L151.90,54.35 L152.71,53.63 L153.52,52.93 L154.33,52.22 L155.15,51.53 L155.96,50.84 L156.77,50.15 L157.58,49.48 L158.39,48.80 L159.20,48.14 L160.01,47.48 L160.83,46.83 L161.64,46.19 L162.45,45.56 L163.26,44.93 L164.07,44.31 L164.88,43.71 L165.69,43.10 L166.51,42.51 L167.32,41.93 L168.13,41.36 L168.94,40.79 L169.75,40.24 L170.56,39.69 L171.38,39.16 L172.19,38.64 L173.00,38.13 L173.81,37.62 L174.62,37.13 L175.43,36.66 L176.24,36.19 L177.06,35.74 L177.87,35.29 L178.68,34.86 L179.49,34.45 L180.30,34.04 L181.11,33.65 L181.93,33.28 L182.74,32.91 L183.55,32.57 L184.36,32.23 L185.17,31.91 L185.98,31.61 L186.79,31.31 L187.61,31.04 L188.42,30.78 L189.23,30.53 L190.04,30.30 L190.85,30.09 L191.66,29.89 L192.48,29.71 L193.29,29.55 L194.10,29.40 L194.91,29.27 L195.72,29.15 L196.53,29.05 L197.34,28.97 L198.16,28.90 L198.97,28.85 L199.78,28.82 L200.59,28.81 L201.40,28.81 L202.21,28.83 L203.03,28.86 L203.84,28.91 L204.65,28.98 L205.46,29.07 L206.27,29.17 L207.08,29.29 L207.89,29.43 L208.71,29.58 L209.52,29.75 L210.33,29.93 L211.14,30.13 L211.95,30.35 L212.76,30.58 L213.58,30.83 L214.39,31.09 L215.20,31.37 L216.01,31.66 L216.82,31.97 L217.63,32.30 L218.44,32.63 L219.26,32.98 L220.07,33.35 L220.88,33.73 L221.69,34.12 L222.50,34.53 L223.31,34.95 L224.13,35.38 L224.94,35.82 L225.75,36.28 L226.56,36.75 L227.37,37.23 L228.18,37.72 L228.99,38.23 L229.81,38.74 L230.62,39.26 L231.43,39.80 L232.24,40.35 L233.05,40.90 L233.86,41.47 L234.67,42.04 L235.49,42.63 L236.30,43.22 L237.11,43.82 L237.92,44.44 L238.73,45.06 L239.54,45.68 L240.36,46.32 L241.17,46.96 L241.98,47.61 L242.79,48.27 L243.60,48.94 L244.41,49.61 L245.22,50.29 L246.04,50.97 L246.85,51.66 L247.66,52.36 L248.47,53.06 L249.28,53.77 L250.09,54.49 L250.91,55.21 L251.72,55.93 L252.53,56.67 L253.34,57.40 L254.15,58.14 L254.96,58.89 L255.77,59.64 L256.59,60.39 L257.40,61.15 L258.21,61.91 L259.02,62.68 L259.83,63.45 L260.64,64.22 L261.46,65.00 L262.27,65.78 L263.08,66.56 L263.89,67.35 L264.70,68.14 L265.51,68.94 L266.32,69.73 L267.14,70.53 L267.95,71.34 L268.76,72.14 L269.57,72.95 L270.38,73.76 L271.19,74.57 L272.01,75.39 L272.82,76.21 L273.63,77.03 L274.44,77.85 L275.25,78.67 L276.06,79.50 L276.87,80.33 L277.69,81.16 L278.50,81.99 L279.31,82.82 L280.12,83.66 L280.93,84.50 L281.74,85.33 L282.56,86.17 L283.37,87.02 L284.18,87.86 L284.99,88.70 L285.80,89.55 L286.61,90.40 L287.42,91.25 L288.24,92.10 L289.05,92.95 L289.86,93.80 L290.67,94.66 L291.48,95.51 L292.29,96.37 L293.11,97.22 L293.92,98.08 L294.73,98.94 L295.54,99.80 L296.35,100.66 L297.16,101.52 L297.97,102.39 L298.79,103.25 L299.60,104.11 L300.41,104.98 L301.22,105.85 L302.03,106.71 L302.84,107.58 L303.65,108.45 L304.47,109.32 L305.28,110.19 L306.09,111.06 L306.90,111.93 L307.71,112.80 L308.52,113.67 L309.34,114.54 L310.15,115.42 L310.96,116.29 L311.77,117.17 L312.58,118.04 L313.39,118.92 L314.20,119.79 L315.02,120.67 L315.83,121.55 L316.64,122.42 L317.45,123.30 L318.26,124.18 L319.07,125.06 L319.89,125.94 L320.70,126.82 L321.51,127.69 L322.32,128.57 L323.13,129.46 L323.94,130.34 L324.75,131.22 L325.57,132.10 L326.38,132.98 L327.19,133.86 L328.00,134.75 L328.81,135.63 L329.62,136.51 L330.44,137.39 L331.25,138.28 L332.06,139.16 L332.87,140.05 L333.68,140.93 L334.49,141.81 L335.30,142.70 L336.12,143.58 L336.93,144.47 L337.74,145.36 L338.55,146.24 L339.36,147.13 L340.17,148.01 L340.99,148.90 L341.80,149.79 L342.61,150.67 L343.42,151.56 L344.23,152.45 L345.04,153.33 L345.85,154.22 L346.67,155.11 L347.48,156.00 L348.29,156.89 L349.10,157.77 L349.91,158.66 L350.72,159.55 L351.54,160.44 L352.35,161.33 L353.16,162.22 L353.97,163.11 L354.78,163.99 L355.59,164.88 L356.40,165.77 L357.22,166.66 L358.03,167.55 L358.84,168.44 L359.65,169.33 L360.46,170.22 L361.27,171.11 L362.08,172.00 L362.90,172.89 L363.71,173.78 L364.52,174.67 L365.33,175.56 L366.14,176.45 L366.95,177.34 L367.77,178.23 L368.58,179.13 L369.39,180.02 L370.20,180.91 L371.01,181.80 L371.82,182.69 L372.63,183.58 L373.45,184.47 L374.26,185.36 L375.07,186.26 L375.88,187.15 L376.69,188.04 L377.50,188.93 L378.32,189.82 L379.13,190.71 L379.94,191.61 L380.75,192.50 L381.56,193.39 L382.37,194.28 L383.18,195.17 L384.00,196.07 L384.81,196.96 L385.62,197.85 L386.43,198.74 L387.24,199.63 L388.05,200.53 L388.87,201.42 L389.68,202.31 L390.49,203.20 L391.30,204.10" stroke="#000" stroke-width="1.80" />
<path d="M67.50,141.64 L68.31,140.76 L69.12,139.87 L69.93,138.99 L70.75,138.10 L71.56,137.22 L72.37,136.34 L73.18,135.45 L73.99,134.57 L74.80,133.69 L75.62,132.81 L76.43,131.93 L77.24,131.04 L78.05,130.16 L78.86,129.28 L79.67,128.40 L80.48,127.52 L81.30,126.64 L82.11,125.76 L82.92,124.88 L83.73,124.01 L84.54,123.13 L85.35,122.25 L86.17,121.37 L86.98,120.50 L87.79,119.62 L88.60,118.74 L89.41,117.87 L90.22,116.99 L91.03,116.12 L91.85,115.25 L92.66,114.37 L93.47,113.50 L94.28,112.63 L95.09,111.76 L95.90,110.89 L96.72,110.02 L97.53,109.15 L98.34,108.28 L99.15,107.41 L99.96,106.54 L100.77,105.68 L101.58,104.81 L102.40,103.94 L103.21,103.08 L104.02,102.22 L104.83,101.35 L105.64,100.49 L106.45,99.63 L107.26,98.77 L108.08,97.91 L108.89,97.06 L109.70,96.20 L110.51,95.34 L111.32,94.49 L112.13,93.63 L112.95,92.78 L113.76,91.93 L114.57,91.08 L115.38,90.23 L116.19,89.38 L117.00,88.54 L117.81,87.69 L118.63,86.85 L119.44,86.01 L120.25,85.17 L121.06,84.33 L121.87,83.49 L122.68,82.66 L123.50,81.83 L124.31,80.99 L125.12,80.16 L125.93,79.34 L126.74,78.51 L127.55,77.69 L128.36,76.86 L129.18,76.05 L129.99,75.23 L130.80,74.41 L131.61,73.60 L132.42,72.79 L133.23,71.98 L134.05,71.18 L134.86,70.38 L135.67,69.58 L136.48,68.78 L137.29,67.99 L138.10,67.20 L138.91,66.41 L139.73,65.63 L140.54,64.85 L141.35,64.07 L142.16,63.30 L142.97,62.53 L143.78,61.76 L144.60,61.00 L145.41,60.24 L146.22,59.49 L147.03,58.74 L147.84,58.00 L148.65,57.26 L149.46,56.52 L150.28,55.79 L151.09,55.07 L151.90,54.35 L152.71,53.63 L153.52,52.93 L154.33,52.22 L155.15,51.53 L155.96,50.84 L156.77,50.15 L157.58,49.48 L158.39,48.80 L159.20,48.14 L160.01,47.48 L160.83,46.83 L161.64,46.19 L162.45,45.56 L163.26,44.93 L164.07,44.31 L164.88,43.71 L165.69,43.10 L166.51,42.51 L167.32,41.93 L168.13,41.36 L168.94,40.79 L169.75,40.24 L170.56,39.69 L171.38,39.16 L172.19,38.64 L173.00,38.13 L173.81,37.62 L174.62,37.13 L175.43,36.66 L176.24,36.19 L177.06,35.74 L177.87,35.29 L178.68,34.86 L179.49,34.45 L180.30,34.04 L181.11,33.65 L181.93,33.28 L182.74,32.91 L183.55,32.57 L184.36,32.23 L185.17,31.91 L185.98,31.61 L186.79,31.31 L187.61,31.04 L188.42,30.78 L189.23,30.53 L190.04,30.30 L190.85,30.09 L191.66,29.89 L192.48,29.71 L193.29,29.55 L194.10,29.40 L194.91,29.27 L195.72,29.15 L196.53,29.05 L197.34,28.97 L198.16,28.90 L198.97,28.85 L199.78,28.82 L200.59,28.81 L201.40,28.81 L202.21,28.83 L203.03,28.86 L203.84,28.91 L204.65,28.98 L205.46,29.07 L206.27,29.17 L207.08,29.29 L207.89,29.43 L208.71,29.58 L209.52,29.75 L210.33,29.93 L211.14,30.13 L211.95,30.35 L212.76,30.58 L213.58,30.83 L214.39,31.09 L215.20,31.37 L216.01,31.66 L216.82,31.97 L217.63,32.30 L218.44,32.63 L219.26,32.98 L220.07,33.35 L220.88,33.73 L221.69,34.12 L222.50,34.53 L223.31,34.95 L224.13,35.38 L224.94,35.82 L225.75,36.28 L226.56,36.75 L227.37,37.23 L228.18,37.72 L228.99,38.23 L229.81,38.74 L230.62,39.26 L231.43,39.80 L232.24,40.35 L233.05,40.90 L233.86,41.47 L234.67,42.04 L235.49,42.63 L236.30,43.22 L237.11,43.82 L237.92,44.44 L238.73,45.06 L239.54,45.68 L240.36,46.32 L241.17,46.96 L241.98,47.61 L242.79,48.27 L243.60,48.94 L244.41,49.61 L245.22,50.29 L246.04,50.97 L246.85,51.66 L247.66,52.36 L248.47,53.06 L249.28,53.77 L250.09,54.49 L250.91,55.21 L251.72,55.93 L252.53,56.67 L253.34,57.40 L254.15,58.14 L254.96,58.89 L255.77,59.64 L256.59,60.39 L257.40,61.15 L258.21,61.91 L259.02,62.68 L259.83,63.45 L260.64,64.22 L261.46,65.00 L262.27,65.78 L263.08,66.56 L263.89,67.35 L264.70,68.14 L265.51,68.94 L266.32,69.73 L267.14,70.53 L267.95,71.34 L268.76,72.14 L269.57,72.95 L270.38,73.76 L271.19,74.57 L272.01,75.39 L272.82,76.21 L273.63,77.03 L274.44,77.85 L275.25,78.67 L276.06,79.50 L276.87,80.33 L277.69,81.16 L278.50,81.99 L279.31,82.82 L280.12,83.66 L280.93,84.50 L281.74,85.33 L282.56,86.17 L283.37,87.02 L284.18,87.86 L284.99,88.70 L285.80,89.55 L286.61,90.40 L287.42,91.25 L288.24,92.10 L289.05,92.95 L289.86,93.80 L290.67,94.66 L291.48,95.51 L292.29,96.37 L293.11,97.22 L293.92,98.08 L294.73,98.94 L295.54,99.80 L296.35,100.66 L297.16,101.52 L297.97,102.39 L298.79,103.25 L299.60,104.11 L300.41,104.98 L301.22,105.85 L302.03,106.71 L302.84,107.58 L303.65,108.44 L304.47,109.31 L305.28,110.18 L306.09,111.05 L306.90,111.92 L307.71,112.78 L308.52,113.65 L309.34,114.52 L310.15,115.39 L310.96,116.26 L311.77,117.13 L312.58,118.00 L313.39,118.87 L314.20,119.74 L315.02,120.61 L315.83,121.48 L316.64,122.36 L317.45,123.23 L318.26,124.10 L319.07,124.97 L319.89,125.84 L320.70,126.72 L321.51,127.59 L322.32,128.46 L323.13,129.33 L323.94,130.21 L324.75,131.08 L325.57,131.95 L326.38,132.83 L327.19,133.70 L328.00,134.58 L328.81,135.45 L329.62,136.33 L330.44,137.20 L331.25,138.07 L332.06,138.95 L332.87,139.83 L333.68,140.70 L334.49,141.58 L335.30,142.45 L336.12,143.33 L336.93,144.20 L337.74,145.08 L338.55,145.96 L339.36,146.83 L340.17,147.71 L340.99,148.59 L341.80,149.46 L342.61,150.34 L343.42,151.21 L344.23,152.09 L345.04,152.96 L345.85,153.84 L346.67,154.71 L347.48,155.58 L348.29,156.46 L349.10,157.33 L349.91,158.20 L350.72,159.07 L351.54,159.94 L352.35,160.81 L353.16,161.68 L353.97,162.55 L354.78,163.42 L355.59,164.29 L356.40,165.16 L357.22,166.03 L358.03,166.90 L358.84,167.77 L359.65,168.63 L360.46,169.50 L361.27,170.37 L362.08,171.24 L362.90,172.11 L363.71,172.97 L364.52,173.84 L365.33,174.71 L366.14,175.57 L366.95,176.44 L367.77,177.31 L368.58,178.18 L369.39,179.04 L370.20,179.91 L371.01,180.78 L371.82,181.64 L372.63,182.51 L373.45,183.38 L374.26,184.24 L375.07,185.11 L375.88,185.98 L376.69,186.85 L377.50,187.71 L378.32,188.58 L379.13,189.45 L379.94,190.32 L380.75,191.19 L381.56,192.05 L382.37,192.92 L383.18,193.79 L384.00,194.66 L384.81,195.53 L385.62,196.40 L386.43,197.27 L387.24,198.14 L388.05,199.01 L388.87,199.89 L389.68,200.76 L390.49,201.63 L391.30,202.50" stroke="#ff0000" stroke-width="1.80" stroke-dasharray="5.5 4.4" />
</g>
<circle cx="315.0" cy="119.9" r="5.5" fill="none" stroke="#000" stroke-width="1.5"/>
<circle cx="313.7" cy="210.2" r="5.5" fill="none" stroke="#000" stroke-width="1.5"/>
<g stroke="#000" stroke-width="1.50" fill="none" stroke-linecap="butt">
<rect x="67.50" y="24.00" width="323.80" height="248.00"/>
</g>
<path d="M67.44,272.00 v3.00 M67.44,24.00 v3.00 M87.68,272.00 v3.00 M87.68,24.00 v3.00 M103.38,272.00 v3.00 M103.38,24.00 v3.00 M116.21,272.00 v3.00 M116.21,24.00 v3.00 M127.06,272.00 v3.00 M127.06,24.00 v3.00 M136.45,272.00 v3.00 M136.45,24.00 v3.00 M144.74,272.00 v3.00 M144.74,24.00 v3.00 M152.15,272.00 v5.00 M152.15,24.00 v5.00 M200.92,272.00 v3.00 M200.92,24.00 v3.00 M229.44,272.00 v3.00 M229.44,24.00 v3.00 M249.68,272.00 v3.00 M249.68,24.00 v3.00 M265.38,272.00 v3.00 M265.38,24.00 v3.00 M278.21,272.00 v3.00 M278.21,24.00 v3.00 M289.06,272.00 v3.00 M289.06,24.00 v3.00 M298.45,272.00 v3.00 M298.45,24.00 v3.00 M306.74,272.00 v3.00 M306.74,24.00 v3.00 M314.15,272.00 v5.00 M314.15,24.00 v5.00 M362.92,272.00 v3.00 M362.92,24.00 v3.00 M391.44,272.00 v3.00 M391.44,24.00 v3.00 M67.50,272.00 h-5.00 M391.30,272.00 h-5.00 M67.50,245.13 h-3.20 M391.30,245.13 h-3.20 M67.50,229.41 h-3.20 M391.30,229.41 h-3.20 M67.50,218.25 h-3.20 M391.30,218.25 h-3.20 M67.50,209.60 h-3.20 M391.30,209.60 h-3.20 M67.50,202.53 h-3.20 M391.30,202.53 h-3.20 M67.50,196.56 h-3.20 M391.30,196.56 h-3.20 M67.50,191.38 h-3.20 M391.30,191.38 h-3.20 M67.50,186.81 h-3.20 M391.30,186.81 h-3.20 M67.50,182.73 h-5.00 M391.30,182.73 h-5.00 M67.50,155.86 h-3.20 M391.30,155.86 h-3.20 M67.50,140.14 h-3.20 M391.30,140.14 h-3.20 M67.50,128.98 h-3.20 M391.30,128.98 h-3.20 M67.50,120.33 h-3.20 M391.30,120.33 h-3.20 M67.50,113.26 h-3.20 M391.30,113.26 h-3.20 M67.50,107.29 h-3.20 M391.30,107.29 h-3.20 M67.50,102.11 h-3.20 M391.30,102.11 h-3.20 M67.50,97.54 h-3.20 M391.30,97.54 h-3.20 M67.50,93.46 h-5.00 M391.30,93.46 h-5.00 M67.50,66.59 h-3.20 M391.30,66.59 h-3.20 M67.50,50.87 h-3.20 M391.30,50.87 h-3.20 M67.50,39.71 h-3.20 M391.30,39.71 h-3.20 M67.50,31.06 h-3.20 M391.30,31.06 h-3.20 M67.50,23.99 h-3.20 M391.30,23.99 h-3.20" stroke="#000" stroke-width="1.3" fill="none"/>
<g clip-path="url(#cb)" fill="none" stroke-linejoin="round">
<path d="M453.40,246.90 L453.88,246.90 L454.35,246.90 L454.83,246.90 L455.31,246.90 L455.78,246.90 L456.26,246.90 L456.73,246.90 L457.21,246.90 L457.69,246.90 L458.16,246.90 L458.64,246.90 L459.12,246.91 L459.59,246.91 L460.07,246.91 L460.54,246.91 L461.02,246.91 L461.50,246.91 L461.97,246.91 L462.45,246.91 L462.93,246.92 L463.40,246.92 L463.88,246.92 L464.36,246.92 L464.83,246.92 L465.31,246.92 L465.78,246.92 L466.26,246.93 L466.74,246.93 L467.21,246.93 L467.69,246.93 L468.17,246.93 L468.64,246.94 L469.12,246.94 L469.59,246.94 L470.07,246.94 L470.55,246.95 L471.02,246.95 L471.50,246.95 L471.98,246.95 L472.45,246.96 L472.93,246.96 L473.41,246.96 L473.88,246.96 L474.36,246.97 L474.83,246.97 L475.31,246.97 L475.79,246.97 L476.26,246.98 L476.74,246.98 L477.22,246.98 L477.69,246.99 L478.17,246.99 L478.64,246.99 L479.12,246.99 L479.60,247.00 L480.07,247.00 L480.55,247.00 L481.03,247.01 L481.50,247.01 L481.98,247.02 L482.46,247.02 L482.93,247.03 L483.41,247.03 L483.88,247.04 L484.36,247.04 L484.84,247.05 L485.31,247.06 L485.79,247.07 L486.27,247.07 L486.74,247.08 L487.22,247.09 L487.69,247.10 L488.17,247.11 L488.65,247.12 L489.12,247.13 L489.60,247.14 L490.08,247.15 L490.55,247.16 L491.03,247.17 L491.51,247.18 L491.98,247.19 L492.46,247.20 L492.93,247.21 L493.41,247.23 L493.89,247.24 L494.36,247.25 L494.84,247.26 L495.32,247.28 L495.79,247.29 L496.27,247.31 L496.74,247.32 L497.22,247.33 L497.70,247.35 L498.17,247.36 L498.65,247.38 L499.13,247.39 L499.60,247.41 L500.08,247.42 L500.56,247.44 L501.03,247.46 L501.51,247.47 L501.98,247.49 L502.46,247.50 L502.94,247.52 L503.41,247.54 L503.89,247.55 L504.37,247.57 L504.84,247.59 L505.32,247.61 L505.79,247.62 L506.27,247.64 L506.75,247.66 L507.22,247.68 L507.70,247.70 L508.18,247.71 L508.65,247.73 L509.13,247.75 L509.61,247.77 L510.08,247.79 L510.56,247.81 L511.03,247.83 L511.51,247.85 L511.99,247.87 L512.46,247.90 L512.94,247.93 L513.42,247.96 L513.89,247.99 L514.37,248.02 L514.84,248.06 L515.32,248.09 L515.80,248.13 L516.27,248.17 L516.75,248.21 L517.23,248.24 L517.70,248.28 L518.18,248.32 L518.66,248.37 L519.13,248.41 L519.61,248.45 L520.08,248.49 L520.56,248.53 L521.04,248.57 L521.51,248.61 L521.99,248.65 L522.47,248.69 L522.94,248.73 L523.42,248.77 L523.89,248.81 L524.37,248.85 L524.85,248.88 L525.32,248.92 L525.80,248.95 L526.28,248.99 L526.75,249.02 L527.23,249.05 L527.71,249.08 L528.18,249.10 L528.66,249.13 L529.13,249.15 L529.61,249.17 L530.09,249.19 L530.56,249.20 L531.04,249.22 L531.52,249.23 L531.99,249.25 L532.47,249.26 L532.94,249.27 L533.42,249.29 L533.90,249.30 L534.37,249.32 L534.85,249.33 L535.33,249.34 L535.80,249.36 L536.28,249.37 L536.76,249.38 L537.23,249.40 L537.71,249.41 L538.18,249.42 L538.66,249.43 L539.14,249.45 L539.61,249.46 L540.09,249.47 L540.57,249.48 L541.04,249.49 L541.52,249.50 L541.99,249.51 L542.47,249.52 L542.95,249.53 L543.42,249.53 L543.90,249.54 L544.38,249.55 L544.85,249.56 L545.33,249.56 L545.81,249.57 L546.28,249.58 L546.76,249.58 L547.23,249.58 L547.71,249.59 L548.19,249.59 L548.66,249.59 L549.14,249.60 L549.62,249.60 L550.09,249.60 L550.57,249.60 L551.04,249.60 L551.52,249.59 L552.00,249.58 L552.47,249.57 L552.95,249.55 L553.43,249.52 L553.90,249.50 L554.38,249.46 L554.86,249.43 L555.33,249.39 L555.81,249.35 L556.28,249.31 L556.76,249.26 L557.24,249.21 L557.71,249.16 L558.19,249.10 L558.67,249.04 L559.14,248.98 L559.62,248.92 L560.09,248.86 L560.57,248.79 L561.05,248.72 L561.52,248.65 L562.00,248.58 L562.48,248.51 L562.95,248.44 L563.43,248.36 L563.91,248.29 L564.38,248.21 L564.86,248.14 L565.33,248.06 L565.81,247.98 L566.29,247.90 L566.76,247.83 L567.24,247.75 L567.72,247.67 L568.19,247.59 L568.67,247.52 L569.14,247.44 L569.62,247.37 L570.10,247.29 L570.57,247.22 L571.05,247.15 L571.53,247.07 L572.00,246.98 L572.48,246.89 L572.96,246.80 L573.43,246.70 L573.91,246.60 L574.38,246.50 L574.86,246.39 L575.34,246.29 L575.81,246.18 L576.29,246.07 L576.77,245.97 L577.24,245.86 L577.72,245.76 L578.19,245.66 L578.67,245.56 L579.15,245.46 L579.62,245.37 L580.10,245.29 L580.58,245.21 L581.05,245.13 L581.53,245.06 L582.01,245.00 L582.48,244.94 L582.96,244.88 L583.43,244.82 L583.91,244.76 L584.39,244.70 L584.86,244.64 L585.34,244.58 L585.82,244.53 L586.29,244.48 L586.77,244.43 L587.24,244.38 L587.72,244.34 L588.20,244.30 L588.67,244.27 L589.15,244.24 L589.63,244.22 L590.10,244.21 L590.58,244.20 L591.06,244.20 L591.53,244.24 L592.01,244.29 L592.48,244.37 L592.96,244.48 L593.44,244.60 L593.91,244.73 L594.39,244.87 L594.87,245.02 L595.34,245.18 L595.82,245.34 L596.29,245.50 L596.77,245.70 L597.25,245.92 L597.72,246.18 L598.20,246.45 L598.68,246.74 L599.15,247.04 L599.63,247.35 L600.11,247.67 L600.58,247.99 L601.06,248.31 L601.53,248.66 L602.01,249.04 L602.49,249.46 L602.96,249.89 L603.44,250.33 L603.92,250.77 L604.39,251.20 L604.87,251.61 L605.34,252.00 L605.82,252.35 L606.30,252.65 L606.77,252.90 L607.25,253.10 L607.73,253.29 L608.20,253.47 L608.68,253.65 L609.16,253.82 L609.63,253.98 L610.11,254.13 L610.58,254.26 L611.06,254.38 L611.54,254.47 L612.01,254.54 L612.49,254.58 L612.97,254.60 L613.44,254.59 L613.92,254.58 L614.39,254.54 L614.87,254.49 L615.35,254.43 L615.82,254.35 L616.30,254.26 L616.78,254.15 L617.25,254.02 L617.73,253.88 L618.21,253.72 L618.68,253.54 L619.16,253.34 L619.63,253.12 L620.11,252.92 L620.59,252.81 L621.06,252.71 L621.54,252.61 L622.02,252.51 L622.49,252.41 L622.97,252.31 L623.44,252.21 L623.92,252.12 L624.40,252.03 L624.87,251.93 L625.35,251.84 L625.83,251.75 L626.30,251.66 L626.78,251.58 L627.26,251.49 L627.73,251.41 L628.21,251.32 L628.68,251.24 L629.16,251.16 L629.64,251.08 L630.11,251.00 L630.59,250.93 L631.07,250.85 L631.54,250.78 L632.02,250.70 L632.49,250.63 L632.97,250.56 L633.45,250.49 L633.92,250.42 L634.40,250.36 L634.88,250.29 L635.35,250.23 L635.83,250.17 L636.31,250.10 L636.78,250.04 L637.26,249.98 L637.73,249.93 L638.21,249.87 L638.69,249.81 L639.16,249.76 L639.64,249.70 L640.12,249.65 L640.59,249.60 L641.07,249.55 L641.54,249.50 L642.02,249.45 L642.50,249.40 L642.97,249.35 L643.45,249.31" stroke="#008080" stroke-width="1.50" stroke-dasharray="1.6 2.05" />
<path d="M453.40,246.80 L453.88,246.80 L454.35,246.80 L454.83,246.80 L455.31,246.80 L455.78,246.80 L456.26,246.80 L456.73,246.80 L457.21,246.79 L457.69,246.79 L458.16,246.79 L458.64,246.79 L459.12,246.79 L459.59,246.79 L460.07,246.78 L460.54,246.78 L461.02,246.78 L461.50,246.78 L461.97,246.77 L462.45,246.77 L462.93,246.77 L463.40,246.76 L463.88,246.76 L464.36,246.76 L464.83,246.75 L465.31,246.75 L465.78,246.75 L466.26,246.74 L466.74,246.74 L467.21,246.73 L467.69,246.73 L468.17,246.73 L468.64,246.72 L469.12,246.72 L469.59,246.71 L470.07,246.71 L470.55,246.70 L471.02,246.70 L471.50,246.69 L471.98,246.69 L472.45,246.68 L472.93,246.68 L473.41,246.67 L473.88,246.67 L474.36,246.66 L474.83,246.66 L475.31,246.65 L475.79,246.65 L476.26,246.64 L476.74,246.64 L477.22,246.63 L477.69,246.63 L478.17,246.62 L478.64,246.62 L479.12,246.61 L479.60,246.60 L480.07,246.60 L480.55,246.59 L481.03,246.59 L481.50,246.58 L481.98,246.58 L482.46,246.57 L482.93,246.56 L483.41,246.56 L483.88,246.55 L484.36,246.54 L484.84,246.53 L485.31,246.53 L485.79,246.52 L486.27,246.51 L486.74,246.50 L487.22,246.49 L487.69,246.49 L488.17,246.48 L488.65,246.47 L489.12,246.46 L489.60,246.45 L490.08,246.44 L490.55,246.43 L491.03,246.42 L491.51,246.41 L491.98,246.40 L492.46,246.39 L492.93,246.38 L493.41,246.37 L493.89,246.35 L494.36,246.34 L494.84,246.33 L495.32,246.32 L495.79,246.31 L496.27,246.29 L496.74,246.28 L497.22,246.27 L497.70,246.25 L498.17,246.24 L498.65,246.23 L499.13,246.21 L499.60,246.20 L500.08,246.18 L500.56,246.17 L501.03,246.15 L501.51,246.14 L501.98,246.12 L502.46,246.11 L502.94,246.09 L503.41,246.07 L503.89,246.06 L504.37,246.04 L504.84,246.02 L505.32,246.00 L505.79,245.99 L506.27,245.97 L506.75,245.95 L507.22,245.93 L507.70,245.91 L508.18,245.89 L508.65,245.87 L509.13,245.85 L509.61,245.83 L510.08,245.81 L510.56,245.79 L511.03,245.77 L511.51,245.75 L511.99,245.72 L512.46,245.69 L512.94,245.66 L513.42,245.63 L513.89,245.60 L514.37,245.57 L514.84,245.53 L515.32,245.49 L515.80,245.46 L516.27,245.42 L516.75,245.37 L517.23,245.33 L517.70,245.29 L518.18,245.24 L518.66,245.20 L519.13,245.15 L519.61,245.10 L520.08,245.05 L520.56,245.00 L521.04,244.95 L521.51,244.90 L521.99,244.84 L522.47,244.79 L522.94,244.74 L523.42,244.68 L523.89,244.62 L524.37,244.57 L524.85,244.51 L525.32,244.45 L525.80,244.39 L526.28,244.33 L526.75,244.28 L527.23,244.22 L527.71,244.16 L528.18,244.10 L528.66,244.04 L529.13,243.97 L529.61,243.91 L530.09,243.85 L530.56,243.79 L531.04,243.73 L531.52,243.67 L531.99,243.60 L532.47,243.53 L532.94,243.46 L533.42,243.39 L533.90,243.32 L534.37,243.25 L534.85,243.18 L535.33,243.10 L535.80,243.02 L536.28,242.94 L536.76,242.86 L537.23,242.78 L537.71,242.70 L538.18,242.62 L538.66,242.53 L539.14,242.45 L539.61,242.36 L540.09,242.27 L540.57,242.19 L541.04,242.10 L541.52,242.01 L541.99,241.92 L542.47,241.82 L542.95,241.73 L543.42,241.64 L543.90,241.55 L544.38,241.45 L544.85,241.36 L545.33,241.26 L545.81,241.17 L546.28,241.07 L546.76,240.98 L547.23,240.88 L547.71,240.79 L548.19,240.69 L548.66,240.59 L549.14,240.50 L549.62,240.40 L550.09,240.30 L550.57,240.21 L551.04,240.11 L551.52,240.00 L552.00,239.90 L552.47,239.79 L552.95,239.67 L553.43,239.55 L553.90,239.44 L554.38,239.32 L554.86,239.19 L555.33,239.07 L555.81,238.95 L556.28,238.83 L556.76,238.71 L557.24,238.59 L557.71,238.47 L558.19,238.36 L558.67,238.25 L559.14,238.14 L559.62,238.04 L560.09,237.94 L560.57,237.85 L561.05,237.76 L561.52,237.68 L562.00,237.60 L562.48,237.53 L562.95,237.45 L563.43,237.38 L563.91,237.30 L564.38,237.23 L564.86,237.15 L565.33,237.08 L565.81,237.01 L566.29,236.94 L566.76,236.88 L567.24,236.82 L567.72,236.77 L568.19,236.72 L568.67,236.68 L569.14,236.65 L569.62,236.62 L570.10,236.61 L570.57,236.60 L571.05,236.60 L571.53,236.62 L572.00,236.65 L572.48,236.69 L572.96,236.73 L573.43,236.79 L573.91,236.86 L574.38,236.93 L574.86,237.00 L575.34,237.08 L575.81,237.17 L576.29,237.26 L576.77,237.38 L577.24,237.52 L577.72,237.69 L578.19,237.89 L578.67,238.10 L579.15,238.32 L579.62,238.56 L580.10,238.82 L580.58,239.08 L581.05,239.35 L581.53,239.66 L582.01,240.00 L582.48,240.38 L582.96,240.78 L583.43,241.21 L583.91,241.65 L584.39,242.09 L584.86,242.54 L585.34,242.99 L585.82,243.43 L586.29,243.87 L586.77,244.32 L587.24,244.80 L587.72,245.28 L588.20,245.77 L588.67,246.25 L589.15,246.72 L589.63,247.18 L590.10,247.62 L590.58,248.02 L591.06,248.40 L591.53,248.76 L592.01,249.10 L592.48,249.44 L592.96,249.76 L593.44,250.08 L593.91,250.38 L594.39,250.67 L594.87,250.96 L595.34,251.23 L595.82,251.50 L596.29,251.76 L596.77,252.03 L597.25,252.29 L597.72,252.55 L598.20,252.80 L598.68,253.04 L599.15,253.26 L599.63,253.47 L600.11,253.65 L600.58,253.81 L601.06,253.94 L601.53,254.06 L602.01,254.17 L602.49,254.27 L602.96,254.37 L603.44,254.46 L603.92,254.54 L604.39,254.61 L604.87,254.68 L605.34,254.74 L605.82,254.78 L606.30,254.83 L606.77,254.87 L607.25,254.91 L607.73,254.94 L608.20,254.98 L608.68,255.01 L609.16,255.03 L609.63,255.06 L610.11,255.07 L610.58,255.08 L611.06,255.07 L611.54,254.95 L612.01,254.83 L612.49,254.72 L612.97,254.60 L613.44,254.48 L613.92,254.37 L614.39,254.25 L614.87,254.13 L615.35,254.02 L615.82,253.90 L616.30,253.79 L616.78,253.68 L617.25,253.57 L617.73,253.46 L618.21,253.35 L618.68,253.24 L619.16,253.13 L619.63,253.02 L620.11,252.92 L620.59,252.81 L621.06,252.71 L621.54,252.61 L622.02,252.51 L622.49,252.41 L622.97,252.31 L623.44,252.21 L623.92,252.12 L624.40,252.03 L624.87,251.93 L625.35,251.84 L625.83,251.75 L626.30,251.66 L626.78,251.58 L627.26,251.49 L627.73,251.41 L628.21,251.32 L628.68,251.24 L629.16,251.16 L629.64,251.08 L630.11,251.00 L630.59,250.93 L631.07,250.85 L631.54,250.78 L632.02,250.70 L632.49,250.63 L632.97,250.56 L633.45,250.49 L633.92,250.42 L634.40,250.36 L634.88,250.29 L635.35,250.23 L635.83,250.17 L636.31,250.10 L636.78,250.04 L637.26,249.98 L637.73,249.93 L638.21,249.87 L638.69,249.81 L639.16,249.76 L639.64,249.70 L640.12,249.65 L640.59,249.60 L641.07,249.55 L641.54,249.50 L642.02,249.45 L642.50,249.40 L642.97,249.35 L643.45,249.31" stroke="#008080" stroke-width="1.40" />
<path d="M453.40,247.06 L453.75,247.86 L454.10,245.77 L454.45,246.85 L454.80,248.65 L455.15,248.62 L455.50,245.12 L455.85,245.52 L456.20,244.89 L456.55,246.55 L456.90,244.89 L457.25,246.62 L457.60,247.37 L457.95,245.96 L458.30,247.44 L458.65,247.11 L459.00,245.13 L459.35,246.99 L459.70,245.99 L460.05,246.51 L460.40,246.10 L460.75,247.37 L461.10,246.60 L461.45,245.77 L461.80,246.90 L462.15,247.55 L462.50,246.24 L462.85,246.03 L463.20,246.48 L463.55,247.86 L463.90,247.93 L464.25,247.17 L464.60,247.70 L464.95,247.54 L465.30,246.48 L465.65,245.86 L466.00,247.07 L466.35,246.86 L466.70,246.46 L467.05,246.20 L467.40,246.55 L467.75,246.67 L468.10,246.31 L468.45,246.35 L468.80,246.65 L469.15,247.33 L469.50,246.86 L469.85,246.36 L470.20,246.36 L470.55,246.63 L470.90,246.26 L471.25,246.26 L471.60,246.71 L471.95,246.12 L472.30,246.66 L472.65,246.50 L473.00,246.94 L473.35,246.98 L473.70,246.90 L474.05,246.89 L474.40,246.52 L474.75,246.85 L475.10,246.48 L475.45,246.73 L475.80,246.46 L476.15,246.59 L476.50,246.20 L476.85,246.39 L477.20,247.08 L477.55,246.38 L477.90,246.80 L478.25,246.75 L478.60,246.81 L478.95,246.59 L479.30,246.69 L479.65,246.26 L480.00,246.27 L480.35,246.37 L480.70,246.33 L481.05,246.30 L481.40,246.32 L481.75,246.62 L482.10,246.36 L482.45,246.86 L482.80,246.68 L483.15,246.58 L483.50,246.68 L483.85,246.41 L484.20,246.79 L484.55,246.73 L484.90,246.66 L485.25,246.52 L485.60,246.70 L485.95,246.64 L486.30,246.59 L486.65,246.70 L487.00,246.56 L487.35,246.43 L487.70,246.51 L488.05,246.35 L488.40,246.34 L488.75,246.56 L489.10,246.57 L489.45,246.64 L489.80,246.58 L490.15,246.45 L490.50,246.28 L490.85,246.42 L491.20,246.57 L491.55,246.51 L491.90,246.40 L492.25,246.38 L492.60,246.30 L492.95,246.28 L493.30,246.24 L493.65,246.47 L494.00,246.39 L494.35,246.24 L494.70,246.31 L495.05,246.20 L495.40,246.24 L495.75,246.36 L496.10,246.33 L496.45,246.28 L496.80,246.23 L497.15,246.30 L497.50,246.36 L497.85,246.23 L498.20,246.15 L498.55,246.14 L498.90,246.13 L499.25,246.30 L499.60,246.20 L499.95,246.25" stroke="#008080" stroke-width="0.90" />
<path d="M453.40,244.60 L454.39,244.71 L455.38,244.81 L456.37,244.90 L457.36,244.99 L458.35,245.07 L459.34,245.14 L460.33,245.20 L461.32,245.26 L462.31,245.31 L463.30,245.36 L464.29,245.41 L465.28,245.45 L466.27,245.48 L467.26,245.52 L468.25,245.55 L469.24,245.57 L470.23,245.60 L471.22,245.62 L472.21,245.63 L473.19,245.65 L474.18,245.66 L475.17,245.67 L476.16,245.68 L477.15,245.69 L478.14,245.70 L479.13,245.70 L480.12,245.71 L481.11,245.71 L482.10,245.71 L483.09,245.71 L484.08,245.70 L485.07,245.70 L486.06,245.69 L487.05,245.68 L488.04,245.67 L489.03,245.66 L490.02,245.65 L491.01,245.64 L492.00,245.62 L492.00,247.17 L491.01,247.20 L490.02,247.23 L489.03,247.26 L488.04,247.28 L487.05,247.31 L486.06,247.34 L485.07,247.36 L484.08,247.39 L483.09,247.41 L482.10,247.44 L481.11,247.46 L480.12,247.49 L479.13,247.52 L478.14,247.54 L477.15,247.57 L476.16,247.60 L475.17,247.64 L474.18,247.67 L473.19,247.70 L472.21,247.74 L471.22,247.78 L470.23,247.82 L469.24,247.86 L468.25,247.90 L467.26,247.95 L466.27,248.00 L465.28,248.05 L464.29,248.11 L463.30,248.16 L462.31,248.23 L461.32,248.29 L460.33,248.36 L459.34,248.44 L458.35,248.52 L457.36,248.60 L456.37,248.69 L455.38,248.79 L454.39,248.89 L453.40,249.00 Z" fill="#008080" stroke="none"/>
<path d="M453.40,49.70 L453.88,49.72 L454.35,49.74 L454.83,49.76 L455.31,49.79 L455.78,49.81 L456.26,49.83 L456.73,49.86 L457.21,49.88 L457.69,49.91 L458.16,49.93 L458.64,49.96 L459.12,49.99 L459.59,50.01 L460.07,50.04 L460.54,50.07 L461.02,50.10 L461.50,50.13 L461.97,50.16 L462.45,50.20 L462.93,50.23 L463.40,50.26 L463.88,50.30 L464.36,50.33 L464.83,50.37 L465.31,50.40 L465.78,50.44 L466.26,50.48 L466.74,50.52 L467.21,50.56 L467.69,50.60 L468.17,50.64 L468.64,50.69 L469.12,50.73 L469.59,50.78 L470.07,50.82 L470.55,50.87 L471.02,50.92 L471.50,50.97 L471.98,51.02 L472.45,51.07 L472.93,51.12 L473.41,51.18 L473.88,51.23 L474.36,51.29 L474.83,51.35 L475.31,51.41 L475.79,51.47 L476.26,51.53 L476.74,51.60 L477.22,51.66 L477.69,51.73 L478.17,51.80 L478.64,51.87 L479.12,51.94 L479.60,52.02 L480.07,52.09 L480.55,52.17 L481.03,52.25 L481.50,52.33 L481.98,52.41 L482.46,52.50 L482.93,52.58 L483.41,52.67 L483.88,52.76 L484.36,52.86 L484.84,52.95 L485.31,53.05 L485.79,53.15 L486.27,53.25 L486.74,53.36 L487.22,53.47 L487.69,53.58 L488.17,53.69 L488.65,53.80 L489.12,53.92 L489.60,54.04 L490.08,54.17 L490.55,54.29 L491.03,54.42 L491.51,54.56 L491.98,54.69 L492.46,54.83 L492.93,54.97 L493.41,55.12 L493.89,55.27 L494.36,55.42 L494.84,55.58 L495.32,55.74 L495.79,55.90 L496.27,56.07 L496.74,56.24 L497.22,56.42 L497.70,56.60 L498.17,56.78 L498.65,56.97 L499.13,57.17 L499.60,57.37 L500.08,57.57 L500.56,57.78 L501.03,57.99 L501.51,58.21 L501.98,58.43 L502.46,58.66 L502.94,58.89 L503.41,59.13 L503.89,59.38 L504.37,59.63 L504.84,59.89 L505.32,60.15 L505.79,60.42 L506.27,60.70 L506.75,60.98 L507.22,61.27 L507.70,61.57 L508.18,61.87 L508.65,62.18 L509.13,62.50 L509.61,62.83 L510.08,63.16 L510.56,63.50 L511.03,63.85 L511.51,64.21 L511.99,64.58 L512.46,64.96 L512.94,65.34 L513.42,65.74 L513.89,66.14 L514.37,66.55 L514.84,66.98 L515.32,67.41 L515.80,67.86 L516.27,68.31 L516.75,68.78 L517.23,69.25 L517.70,69.74 L518.18,70.24 L518.66,70.75 L519.13,71.28 L519.61,71.81 L520.08,72.36 L520.56,72.92 L521.04,73.50 L521.51,74.09 L521.99,74.69 L522.47,75.31 L522.94,75.94 L523.42,76.59 L523.89,77.25 L524.37,77.93 L524.85,78.62 L525.32,79.33 L525.80,80.05 L526.28,80.80 L526.75,81.56 L527.23,82.33 L527.71,83.13 L528.18,83.94 L528.66,84.77 L529.13,85.62 L529.61,86.49 L530.09,87.38 L530.56,88.29 L531.04,89.22 L531.52,90.17 L531.99,91.14 L532.47,92.13 L532.94,93.14 L533.42,94.18 L533.90,95.23 L534.37,96.31 L534.85,97.42 L535.33,98.54 L535.80,99.69 L536.28,100.86 L536.76,102.06 L537.23,103.28 L537.71,104.52 L538.18,105.79 L538.66,107.09 L539.14,108.41 L539.61,109.75 L540.09,111.12 L540.57,112.51 L541.04,113.93 L541.52,115.38 L541.99,116.85 L542.47,118.34 L542.95,119.86 L543.42,121.41 L543.90,122.98 L544.38,124.57 L544.85,126.19 L545.33,127.84 L545.81,129.51 L546.28,131.20 L546.76,132.92 L547.23,134.66 L547.71,136.42 L548.19,138.20 L548.66,140.01 L549.14,141.84 L549.62,143.68 L550.09,145.55 L550.57,147.43 L551.04,149.33 L551.52,151.25 L552.00,153.19 L552.47,155.14 L552.95,157.10 L553.43,159.08 L553.90,161.06 L554.38,163.06 L554.86,165.07 L555.33,167.08 L555.81,169.10 L556.28,171.12 L556.76,173.15 L557.24,175.18 L557.71,177.21 L558.19,179.24 L558.67,181.27 L559.14,183.29 L559.62,185.31 L560.09,187.32 L560.57,189.32 L561.05,191.31 L561.52,193.28 L562.00,195.25 L562.48,197.19 L562.95,199.12 L563.43,201.04 L563.91,202.93 L564.38,204.80 L564.86,206.64 L565.33,208.47 L565.81,210.26 L566.29,212.03 L566.76,213.77 L567.24,215.49 L567.72,217.17 L568.19,218.82 L568.67,220.43 L569.14,222.02 L569.62,223.56 L570.10,225.08 L570.57,226.56 L571.05,228.00 L571.53,229.40 L572.00,230.77 L572.48,232.10 L572.96,233.39 L573.43,234.64 L573.91,235.85 L574.38,237.03 L574.86,238.17 L575.34,239.27 L575.81,240.33 L576.29,241.35 L576.77,242.33 L577.24,243.28 L577.72,244.19 L578.19,245.06 L578.67,245.89 L579.15,246.69 L579.62,247.46 L580.10,248.19 L580.58,248.88 L581.05,249.55 L581.53,250.17 L582.01,250.77 L582.48,251.34 L582.96,251.87 L583.43,252.38 L583.91,252.86 L584.39,253.31 L584.86,253.73 L585.34,254.12 L585.82,254.49 L586.29,254.84 L586.77,255.16 L587.24,255.45 L587.72,255.73 L588.20,255.98 L588.67,256.21 L589.15,256.43 L589.63,256.62 L590.10,256.80 L590.58,256.95 L591.06,257.09 L591.53,257.22 L592.01,257.33 L592.48,257.42 L592.96,257.50 L593.44,257.57 L593.91,257.62 L594.39,257.66 L594.87,257.69 L595.34,257.71 L595.82,257.72 L596.29,257.72 L596.77,257.71 L597.25,257.69 L597.72,257.66 L598.20,257.62 L598.68,257.58 L599.15,257.53 L599.63,257.48 L600.11,257.41 L600.58,257.35 L601.06,257.27 L601.53,257.20 L602.01,257.12 L602.49,257.03 L602.96,256.94 L603.44,256.85 L603.92,256.75 L604.39,256.65 L604.87,256.55 L605.34,256.44 L605.82,256.34 L606.30,256.23 L606.77,256.12 L607.25,256.00 L607.73,255.89 L608.20,255.78 L608.68,255.66 L609.16,255.54 L609.63,255.43 L610.11,255.31 L610.58,255.19 L611.06,255.07 L611.54,254.96 L612.01,254.84 L612.49,254.72 L612.97,254.60 L613.44,254.48 L613.92,254.37 L614.39,254.25 L614.87,254.14 L615.35,254.02 L615.82,253.91 L616.30,253.79 L616.78,253.68 L617.25,253.57 L617.73,253.46 L618.21,253.35 L618.68,253.24 L619.16,253.13 L619.63,253.02 L620.11,252.92 L620.59,252.81 L621.06,252.71 L621.54,252.61 L622.02,252.51 L622.49,252.41 L622.97,252.31 L623.44,252.22 L623.92,252.12 L624.40,252.03 L624.87,251.93 L625.35,251.84 L625.83,251.75 L626.30,251.66 L626.78,251.58 L627.26,251.49 L627.73,251.41 L628.21,251.32 L628.68,251.24 L629.16,251.16 L629.64,251.08 L630.11,251.00 L630.59,250.93 L631.07,250.85 L631.54,250.78 L632.02,250.70 L632.49,250.63 L632.97,250.56 L633.45,250.49 L633.92,250.42 L634.40,250.36 L634.88,250.29 L635.35,250.23 L635.83,250.17 L636.31,250.10 L636.78,250.04 L637.26,249.98 L637.73,249.93 L638.21,249.87 L638.69,249.81 L639.16,249.76 L639.64,249.70 L640.12,249.65 L640.59,249.60 L641.07,249.55 L641.54,249.50 L642.02,249.45 L642.50,249.40 L642.97,249.35 L643.45,249.31" stroke="#000" stroke-width="1.50" />
<path d="M453.40,103.10 L453.88,102.98 L454.35,102.86 L454.83,102.75 L455.31,102.63 L455.78,102.52 L456.26,102.40 L456.73,102.29 L457.21,102.18 L457.69,102.07 L458.16,101.96 L458.64,101.85 L459.12,101.74 L459.59,101.63 L460.07,101.53 L460.54,101.43 L461.02,101.33 L461.50,101.23 L461.97,101.13 L462.45,101.03 L462.93,100.94 L463.40,100.85 L463.88,100.76 L464.36,100.67 L464.83,100.58 L465.31,100.50 L465.78,100.42 L466.26,100.34 L466.74,100.26 L467.21,100.18 L467.69,100.11 L468.17,100.04 L468.64,99.98 L469.12,99.91 L469.59,99.85 L470.07,99.79 L470.55,99.73 L471.02,99.68 L471.50,99.62 L471.98,99.56 L472.45,99.50 L472.93,99.44 L473.41,99.39 L473.88,99.33 L474.36,99.27 L474.83,99.21 L475.31,99.16 L475.79,99.10 L476.26,99.05 L476.74,98.99 L477.22,98.94 L477.69,98.88 L478.17,98.83 L478.64,98.78 L479.12,98.73 L479.60,98.68 L480.07,98.63 L480.55,98.58 L481.03,98.54 L481.50,98.49 L481.98,98.45 L482.46,98.41 L482.93,98.37 L483.41,98.33 L483.88,98.30 L484.36,98.26 L484.84,98.23 L485.31,98.20 L485.79,98.17 L486.27,98.14 L486.74,98.12 L487.22,98.09 L487.69,98.07 L488.17,98.05 L488.65,98.04 L489.12,98.03 L489.60,98.02 L490.08,98.01 L490.55,98.00 L491.03,98.00 L491.51,98.00 L491.98,98.01 L492.46,98.02 L492.93,98.03 L493.41,98.05 L493.89,98.08 L494.36,98.11 L494.84,98.14 L495.32,98.18 L495.79,98.22 L496.27,98.27 L496.74,98.32 L497.22,98.37 L497.70,98.43 L498.17,98.49 L498.65,98.56 L499.13,98.63 L499.60,98.70 L500.08,98.78 L500.56,98.86 L501.03,98.94 L501.51,99.03 L501.98,99.12 L502.46,99.21 L502.94,99.30 L503.41,99.40 L503.89,99.50 L504.37,99.61 L504.84,99.71 L505.32,99.82 L505.79,99.93 L506.27,100.04 L506.75,100.16 L507.22,100.27 L507.70,100.39 L508.18,100.51 L508.65,100.64 L509.13,100.76 L509.61,100.89 L510.08,101.01 L510.56,101.14 L511.03,101.29 L511.51,101.46 L511.99,101.65 L512.46,101.85 L512.94,102.07 L513.42,102.31 L513.89,102.57 L514.37,102.84 L514.84,103.12 L515.32,103.42 L515.80,103.73 L516.27,104.04 L516.75,104.37 L517.23,104.71 L517.70,105.05 L518.18,105.40 L518.66,105.76 L519.13,106.12 L519.61,106.49 L520.08,106.86 L520.56,107.23 L521.04,107.61 L521.51,108.01 L521.99,108.43 L522.47,108.87 L522.94,109.32 L523.42,109.79 L523.89,110.27 L524.37,110.76 L524.85,111.27 L525.32,111.80 L525.80,112.33 L526.28,112.88 L526.75,113.44 L527.23,114.02 L527.71,114.60 L528.18,115.19 L528.66,115.79 L529.13,116.40 L529.61,117.02 L530.09,117.65 L530.56,118.28 L531.04,118.94 L531.52,119.61 L531.99,120.31 L532.47,121.03 L532.94,121.77 L533.42,122.53 L533.90,123.31 L534.37,124.10 L534.85,124.91 L535.33,125.73 L535.80,126.57 L536.28,127.42 L536.76,128.28 L537.23,129.15 L537.71,130.03 L538.18,130.91 L538.66,131.81 L539.14,132.71 L539.61,133.61 L540.09,134.52 L540.57,135.43 L541.04,136.34 L541.52,137.27 L541.99,138.22 L542.47,139.17 L542.95,140.14 L543.42,141.13 L543.90,142.13 L544.38,143.15 L544.85,144.18 L545.33,145.23 L545.81,146.30 L546.28,147.38 L546.76,148.48 L547.23,149.61 L547.71,150.75 L548.19,151.92 L548.66,153.12 L549.14,154.34 L549.62,155.59 L550.09,156.86 L550.57,158.16 L551.04,159.47 L551.52,160.80 L552.00,162.15 L552.47,163.52 L552.95,164.89 L553.43,166.28 L553.90,167.69 L554.38,169.10 L554.86,170.54 L555.33,171.99 L555.81,173.46 L556.28,174.95 L556.76,176.46 L557.24,177.99 L557.71,179.55 L558.19,181.13 L558.67,182.74 L559.14,184.37 L559.62,186.04 L560.09,187.73 L560.57,189.46 L561.05,191.23 L561.52,193.03 L562.00,194.87 L562.48,196.74 L562.95,198.64 L563.43,200.58 L563.91,202.54 L564.38,204.54 L564.86,206.56 L565.33,208.61 L565.81,210.69 L566.29,212.56 L566.76,214.27 L567.24,215.96 L567.72,217.61 L568.19,219.23 L568.67,220.82 L569.14,222.38 L569.62,223.90 L570.10,225.39 L570.57,226.85 L571.05,228.27 L571.53,229.66 L572.00,231.01 L572.48,232.32 L572.96,233.59 L573.43,234.83 L573.91,236.03 L574.38,237.19 L574.86,238.31 L575.34,239.40 L575.81,240.45 L576.29,241.46 L576.77,242.43 L577.24,243.37 L577.72,244.27 L578.19,245.13 L578.67,245.96 L579.15,246.76 L579.62,247.51 L580.10,248.24 L580.58,248.93 L581.05,249.58 L581.53,250.21 L582.01,250.80 L582.48,251.36 L582.96,251.90 L583.43,252.40 L583.91,252.87 L584.39,253.32 L584.86,253.74 L585.34,254.13 L585.82,254.50 L586.29,254.84 L586.77,255.16 L587.24,255.46 L587.72,255.73 L588.20,255.98 L588.67,256.21 L589.15,256.42 L589.63,256.62 L590.10,256.79 L590.58,256.95 L591.06,257.09 L591.53,257.21 L592.01,257.32 L592.48,257.41 L592.96,257.49 L593.44,257.56 L593.91,257.61 L594.39,257.65 L594.87,257.68 L595.34,257.70 L595.82,257.71 L596.29,257.71 L596.77,257.70 L597.25,257.68 L597.72,257.65 L598.20,257.62 L598.68,257.57 L599.15,257.53 L599.63,257.47 L600.11,257.41 L600.58,257.34 L601.06,257.27 L601.53,257.19 L602.01,257.11 L602.49,257.02 L602.96,256.93 L603.44,256.84 L603.92,256.74 L604.39,256.64 L604.87,256.54 L605.34,256.44 L605.82,256.33 L606.30,256.22 L606.77,256.11 L607.25,256.00 L607.73,255.89 L608.20,255.77 L608.68,255.66 L609.16,255.54 L609.63,255.42 L610.11,255.31 L610.58,255.19 L611.06,255.07 L611.54,254.95 L612.01,254.83 L612.49,254.72 L612.97,254.60 L613.44,254.48 L613.92,254.37 L614.39,254.25 L614.87,254.13 L615.35,254.02 L615.82,253.90 L616.30,253.79 L616.78,253.68 L617.25,253.57 L617.73,253.46 L618.21,253.35 L618.68,253.24 L619.16,253.13 L619.63,253.02 L620.11,252.92 L620.59,252.81 L621.06,252.71 L621.54,252.61 L622.02,252.51 L622.49,252.41 L622.97,252.31 L623.44,252.21 L623.92,252.12 L624.40,252.03 L624.87,251.93 L625.35,251.84 L625.83,251.75 L626.30,251.66 L626.78,251.58 L627.26,251.49 L627.73,251.41 L628.21,251.32 L628.68,251.24 L629.16,251.16 L629.64,251.08 L630.11,251.00 L630.59,250.93 L631.07,250.85 L631.54,250.78 L632.02,250.70 L632.49,250.63 L632.97,250.56 L633.45,250.49 L633.92,250.42 L634.40,250.36 L634.88,250.29 L635.35,250.23 L635.83,250.17 L636.31,250.10 L636.78,250.04 L637.26,249.98 L637.73,249.93 L638.21,249.87 L638.69,249.81 L639.16,249.76 L639.64,249.70 L640.12,249.65 L640.59,249.60 L641.07,249.55 L641.54,249.50 L642.02,249.45 L642.50,249.40 L642.97,249.35 L643.45,249.31" stroke="#ff0000" stroke-width="1.50" />
<path d="M453.40,56.46 L453.88,56.48 L454.35,56.50 L454.83,56.52 L455.31,56.55 L455.78,56.57 L456.26,56.59 L456.73,56.61 L457.21,56.64 L457.69,56.66 L458.16,56.69 L458.64,56.71 L459.12,56.74 L459.59,56.77 L460.07,56.79 L460.54,56.82 L461.02,56.85 L461.50,56.88 L461.97,56.91 L462.45,56.94 L462.93,56.97 L463.40,57.00 L463.88,57.04 L464.36,57.07 L464.83,57.11 L465.31,57.14 L465.78,57.18 L466.26,57.21 L466.74,57.25 L467.21,57.29 L467.69,57.33 L468.17,57.37 L468.64,57.41 L469.12,57.45 L469.59,57.50 L470.07,57.54 L470.55,57.59 L471.02,57.64 L471.50,57.68 L471.98,57.73 L472.45,57.78 L472.93,57.83 L473.41,57.89 L473.88,57.94 L474.36,57.99 L474.83,58.05 L475.31,58.11 L475.79,58.17 L476.26,58.23 L476.74,58.29 L477.22,58.35 L477.69,58.42 L478.17,58.48 L478.64,58.55 L479.12,58.62 L479.60,58.69 L480.07,58.76 L480.55,58.84 L481.03,58.91 L481.50,58.99 L481.98,59.07 L482.46,59.15 L482.93,59.24 L483.41,59.32 L483.88,59.41 L484.36,59.50 L484.84,59.59 L485.31,59.68 L485.79,59.78 L486.27,59.88 L486.74,59.98 L487.22,60.08 L487.69,60.19 L488.17,60.29 L488.65,60.40 L489.12,60.52 L489.60,60.63 L490.08,60.75 L490.55,60.87 L491.03,61.00 L491.51,61.12 L491.98,61.25 L492.46,61.39 L492.93,61.52 L493.41,61.66 L493.89,61.80 L494.36,61.95 L494.84,62.10 L495.32,62.25 L495.79,62.41 L496.27,62.57 L496.74,62.73 L497.22,62.90 L497.70,63.07 L498.17,63.25 L498.65,63.43 L499.13,63.61 L499.60,63.80 L500.08,64.00 L500.56,64.20 L501.03,64.40 L501.51,64.61 L501.98,64.82 L502.46,65.04 L502.94,65.26 L503.41,65.49 L503.89,65.72 L504.37,65.96 L504.84,66.21 L505.32,66.46 L505.79,66.71 L506.27,66.98 L506.75,67.25 L507.22,67.52 L507.70,67.80 L508.18,68.09 L508.65,68.39 L509.13,68.69 L509.61,69.00 L510.08,69.32 L510.56,69.64 L511.03,69.98 L511.51,70.32 L511.99,70.67 L512.46,71.02 L512.94,71.39 L513.42,71.76 L513.89,72.15 L514.37,72.54 L514.84,72.94 L515.32,73.35 L515.80,73.77 L516.27,74.21 L516.75,74.65 L517.23,75.10 L517.70,75.56 L518.18,76.04 L518.66,76.52 L519.13,77.02 L519.61,77.53 L520.08,78.05 L520.56,78.58 L521.04,79.13 L521.51,79.69 L521.99,80.26 L522.47,80.84 L522.94,81.44 L523.42,82.05 L523.89,82.68 L524.37,83.32 L524.85,83.98 L525.32,84.65 L525.80,85.34 L526.28,86.05 L526.75,86.77 L527.23,87.50 L527.71,88.26 L528.18,89.03 L528.66,89.82 L529.13,90.62 L529.61,91.45 L530.09,92.29 L530.56,93.15 L531.04,94.03 L531.52,94.94 L531.99,95.86 L532.47,96.80 L532.94,97.76 L533.42,98.74 L533.90,99.75 L534.37,100.77 L534.85,101.82 L535.33,102.89 L535.80,103.98 L536.28,105.10 L536.76,106.24 L537.23,107.40 L537.71,108.58 L538.18,109.79 L538.66,111.03 L539.14,112.28 L539.61,113.56 L540.09,114.87 L540.57,116.20 L541.04,117.55 L541.52,118.93 L541.99,120.34 L542.47,121.77 L542.95,123.22 L543.42,124.70 L543.90,126.20 L544.38,127.73 L544.85,129.28 L545.33,130.86 L545.81,132.46 L546.28,134.08 L546.76,135.73 L547.23,137.40 L547.71,139.10 L548.19,140.81 L548.66,142.55 L549.14,144.30 L549.62,146.08 L550.09,147.88 L550.57,149.70 L551.04,151.53 L551.52,153.38 L552.00,155.25 L552.47,157.13 L552.95,159.03 L553.43,160.94 L553.90,162.87 L554.38,164.80 L554.86,166.74 L555.33,168.70 L555.81,170.66 L556.28,172.62 L556.76,174.59 L557.24,176.56 L557.71,178.54 L558.19,180.51 L558.67,182.49 L559.14,184.46 L559.62,186.42 L560.09,188.38 L560.57,190.33 L561.05,192.27 L561.52,194.20 L562.00,196.12 L562.48,198.03 L562.95,199.91 L563.43,201.78 L563.91,203.64 L564.38,205.47 L564.86,207.28 L565.33,209.07 L565.81,210.83 L566.29,212.56 L566.76,214.27 L567.24,215.96 L567.72,217.61 L568.19,219.23 L568.67,220.82 L569.14,222.38 L569.62,223.90 L570.10,225.39 L570.57,226.85 L571.05,228.27 L571.53,229.66 L572.00,231.01 L572.48,232.32 L572.96,233.59 L573.43,234.83 L573.91,236.03 L574.38,237.19 L574.86,238.31 L575.34,239.40 L575.81,240.45 L576.29,241.46 L576.77,242.43 L577.24,243.37 L577.72,244.27 L578.19,245.13 L578.67,245.96 L579.15,246.76 L579.62,247.51 L580.10,248.24 L580.58,248.93 L581.05,249.58 L581.53,250.21 L582.01,250.80 L582.48,251.36 L582.96,251.90 L583.43,252.40 L583.91,252.87 L584.39,253.32 L584.86,253.74 L585.34,254.13 L585.82,254.50 L586.29,254.84 L586.77,255.16 L587.24,255.46 L587.72,255.73 L588.20,255.98 L588.67,256.21 L589.15,256.42 L589.63,256.62 L590.10,256.79 L590.58,256.95 L591.06,257.09 L591.53,257.21 L592.01,257.32 L592.48,257.41 L592.96,257.49 L593.44,257.56 L593.91,257.61 L594.39,257.65 L594.87,257.68 L595.34,257.70 L595.82,257.71 L596.29,257.71 L596.77,257.70 L597.25,257.68 L597.72,257.65 L598.20,257.62 L598.68,257.57 L599.15,257.53 L599.63,257.47 L600.11,257.41 L600.58,257.34 L601.06,257.27 L601.53,257.19 L602.01,257.11 L602.49,257.02 L602.96,256.93 L603.44,256.84 L603.92,256.74 L604.39,256.64 L604.87,256.54 L605.34,256.44 L605.82,256.33 L606.30,256.22 L606.77,256.11 L607.25,256.00 L607.73,255.89 L608.20,255.77 L608.68,255.66 L609.16,255.54 L609.63,255.42 L610.11,255.31 L610.58,255.19 L611.06,255.07 L611.54,254.95 L612.01,254.83 L612.49,254.72 L612.97,254.60 L613.44,254.48 L613.92,254.37 L614.39,254.25 L614.87,254.13 L615.35,254.02 L615.82,253.90 L616.30,253.79 L616.78,253.68 L617.25,253.57 L617.73,253.46 L618.21,253.35 L618.68,253.24 L619.16,253.13 L619.63,253.02 L620.11,252.92 L620.59,252.81 L621.06,252.71 L621.54,252.61 L622.02,252.51 L622.49,252.41 L622.97,252.31 L623.44,252.21 L623.92,252.12 L624.40,252.03 L624.87,251.93 L625.35,251.84 L625.83,251.75 L626.30,251.66 L626.78,251.58 L627.26,251.49 L627.73,251.41 L628.21,251.32 L628.68,251.24 L629.16,251.16 L629.64,251.08 L630.11,251.00 L630.59,250.93 L631.07,250.85 L631.54,250.78 L632.02,250.70 L632.49,250.63 L632.97,250.56 L633.45,250.49 L633.92,250.42 L634.40,250.36 L634.88,250.29 L635.35,250.23 L635.83,250.17 L636.31,250.10 L636.78,250.04 L637.26,249.98 L637.73,249.93 L638.21,249.87 L638.69,249.81 L639.16,249.76 L639.64,249.70 L640.12,249.65 L640.59,249.60 L641.07,249.55 L641.54,249.50 L642.02,249.45 L642.50,249.40 L642.97,249.35 L643.45,249.31" stroke="#0000ff" stroke-width="1.50" />
</g>
<g clip-path="url(#cc)" fill="none" stroke-linejoin="round">
<path d="M643.45,151.17 L644.02,151.33 L644.59,151.50 L645.17,151.66 L645.74,151.84 L646.31,152.01 L646.88,152.19 L647.45,152.37 L648.02,152.56 L648.60,152.75 L649.17,152.94 L649.74,153.14 L650.31,153.34 L650.88,153.54 L651.45,153.75 L652.03,153.96 L652.60,154.17 L653.17,154.38 L653.74,154.60 L654.31,154.82 L654.88,155.04 L655.46,155.27 L656.03,155.50 L656.60,155.73 L657.17,155.96 L657.74,156.20 L658.32,156.44 L658.89,156.68 L659.46,156.92 L660.03,157.17 L660.60,157.42 L661.17,157.67 L661.75,157.93 L662.32,158.19 L662.89,158.45 L663.46,158.72 L664.03,159.00 L664.60,159.27 L665.18,159.55 L665.75,159.84 L666.32,160.13 L666.89,160.42 L667.46,160.72 L668.03,161.02 L668.61,161.32 L669.18,161.63 L669.75,161.94 L670.32,162.25 L670.89,162.57 L671.47,162.89 L672.04,163.21 L672.61,163.54 L673.18,163.87 L673.75,164.21 L674.32,164.55 L674.90,164.89 L675.47,165.23 L676.04,165.58 L676.61,165.93 L677.18,166.28 L677.75,166.64 L678.33,167.00 L678.90,167.36 L679.47,167.73 L680.04,168.10 L680.61,168.47 L681.18,168.85 L681.76,169.24 L682.33,169.63 L682.90,170.04 L683.47,170.45 L684.04,170.86 L684.62,171.28 L685.19,171.71 L685.76,172.14 L686.33,172.58 L686.90,173.03 L687.47,173.47 L688.05,173.93 L688.62,174.39 L689.19,174.85 L689.76,175.31 L690.33,175.78 L690.90,176.25 L691.48,176.73 L692.05,177.20 L692.62,177.68 L693.19,178.16 L693.76,178.65 L694.33,179.13 L694.91,179.62 L695.48,180.11 L696.05,180.59 L696.62,181.08 L697.19,181.57 L697.77,182.06 L698.34,182.55 L698.91,183.03 L699.48,183.52 L700.05,184.01 L700.62,184.49 L701.20,184.97 L701.77,185.46 L702.34,185.95 L702.91,186.44 L703.48,186.94 L704.05,187.44 L704.63,187.95 L705.20,188.46 L705.77,188.98 L706.34,189.50 L706.91,190.04 L707.48,190.58 L708.06,191.13 L708.63,191.70 L709.20,192.28 L709.77,192.86 L710.34,193.45 L710.92,194.05 L711.49,194.64 L712.06,195.23 L712.63,195.82 L713.20,196.40 L713.77,196.97 L714.35,197.55 L714.92,198.13 L715.49,198.71 L716.06,199.29 L716.63,199.87 L717.20,200.46 L717.78,201.05 L718.35,201.63 L718.92,202.22 L719.49,202.80 L720.06,203.39 L720.63,203.97 L721.21,204.55 L721.78,205.13 L722.35,205.70 L722.92,206.27 L723.49,206.84 L724.07,207.40 L724.64,207.96 L725.21,208.51 L725.78,209.06 L726.35,209.60 L726.92,210.13 L727.50,210.66 L728.07,211.18 L728.64,211.69 L729.21,212.20 L729.78,212.69 L730.35,213.18 L730.93,213.66 L731.50,214.13 L732.07,214.60 L732.64,215.07 L733.21,215.53 L733.78,215.99 L734.36,216.45 L734.93,216.90 L735.50,217.35 L736.07,217.80 L736.64,218.24 L737.22,218.68 L737.79,219.12 L738.36,219.55 L738.93,219.98 L739.50,220.40 L740.07,220.83 L740.65,221.24 L741.22,221.66 L741.79,222.07 L742.36,222.48 L742.93,222.88 L743.50,223.28 L744.08,223.67 L744.65,224.06 L745.22,224.45 L745.79,224.83 L746.36,225.21 L746.93,225.59 L747.51,225.96 L748.08,226.33 L748.65,226.69 L749.22,227.05 L749.79,227.41 L750.37,227.76 L750.94,228.10 L751.51,228.45 L752.08,228.80 L752.65,229.15 L753.22,229.49 L753.80,229.84 L754.37,230.18 L754.94,230.52 L755.51,230.86 L756.08,231.20 L756.65,231.53 L757.23,231.87 L757.80,232.20 L758.37,232.52 L758.94,232.85 L759.51,233.17 L760.08,233.49 L760.66,233.80 L761.23,234.11 L761.80,234.41 L762.37,234.71 L762.94,235.01 L763.52,235.30 L764.09,235.58 L764.66,235.86 L765.23,236.13 L765.80,236.40 L766.37,236.66 L766.95,236.91 L767.52,237.16 L768.09,237.40 L768.66,237.63 L769.23,237.86 L769.80,238.08 L770.38,238.29 L770.95,238.49 L771.52,238.69 L772.09,238.88 L772.66,239.08 L773.23,239.27 L773.81,239.46 L774.38,239.65 L774.95,239.83 L775.52,240.01 L776.09,240.19 L776.67,240.37 L777.24,240.55 L777.81,240.72 L778.38,240.89 L778.95,241.05 L779.52,241.22 L780.10,241.38 L780.67,241.53 L781.24,241.69 L781.81,241.84 L782.38,241.99 L782.95,242.13 L783.53,242.27 L784.10,242.40 L784.67,242.54 L785.24,242.67 L785.81,242.79 L786.38,242.91 L786.96,243.03 L787.53,243.14 L788.10,243.25 L788.67,243.35 L789.24,243.45 L789.82,243.55 L790.39,243.64 L790.96,243.72 L791.53,243.81 L792.10,243.89 L792.67,243.98 L793.25,244.06 L793.82,244.14 L794.39,244.23 L794.96,244.31 L795.53,244.39 L796.10,244.47 L796.68,244.55 L797.25,244.63 L797.82,244.70 L798.39,244.78 L798.96,244.86 L799.53,244.93 L800.11,245.00 L800.68,245.07 L801.25,245.14 L801.82,245.21 L802.39,245.27 L802.97,245.34 L803.54,245.40 L804.11,245.46 L804.68,245.52 L805.25,245.57 L805.82,245.62 L806.40,245.68 L806.97,245.72 L807.54,245.77 L808.11,245.81 L808.68,245.85 L809.25,245.89 L809.83,245.93 L810.40,245.96 L810.97,245.99 L811.54,246.02 L812.11,246.04 L812.68,246.06 L813.26,246.08 L813.83,246.09 L814.40,246.10" stroke="#0000ff" stroke-width="1.50" />
<path d="M643.45,67.25 L644.02,67.65 L644.59,68.05 L645.17,68.46 L645.74,68.88 L646.31,69.31 L646.88,69.74 L647.45,70.18 L648.02,70.64 L648.60,71.10 L649.17,71.56 L649.74,72.04 L650.31,72.52 L650.88,73.02 L651.45,73.52 L652.03,74.03 L652.60,74.55 L653.17,75.08 L653.74,75.62 L654.31,76.17 L654.88,76.73 L655.46,77.29 L656.03,77.87 L656.60,78.45 L657.17,79.05 L657.74,79.66 L658.32,80.27 L658.89,80.90 L659.46,81.53 L660.03,82.18 L660.60,82.83 L661.17,83.50 L661.75,84.17 L662.32,84.86 L662.89,85.56 L663.46,86.26 L664.03,86.98 L664.60,87.71 L665.18,88.45 L665.75,89.19 L666.32,89.95 L666.89,90.72 L667.46,91.50 L668.03,92.29 L668.61,93.09 L669.18,93.90 L669.75,94.73 L670.32,95.56 L670.89,96.40 L671.47,97.25 L672.04,98.11 L672.61,98.99 L673.18,99.87 L673.75,100.76 L674.32,101.67 L674.90,102.58 L675.47,103.50 L676.04,104.44 L676.61,105.38 L677.18,106.33 L677.75,107.29 L678.33,108.27 L678.90,109.25 L679.47,110.23 L680.04,111.23 L680.61,112.24 L681.18,113.25 L681.76,114.28 L682.33,115.31 L682.90,116.35 L683.47,117.40 L684.04,118.45 L684.62,119.51 L685.19,120.58 L685.76,121.66 L686.33,122.74 L686.90,123.83 L687.47,124.93 L688.05,126.03 L688.62,127.14 L689.19,128.25 L689.76,129.37 L690.33,130.49 L690.90,131.62 L691.48,132.75 L692.05,133.89 L692.62,135.03 L693.19,136.17 L693.76,137.32 L694.33,138.47 L694.91,139.62 L695.48,140.78 L696.05,141.93 L696.62,143.09 L697.19,144.25 L697.77,145.41 L698.34,146.57 L698.91,147.74 L699.48,148.90 L700.05,150.06 L700.62,151.22 L701.20,152.38 L701.77,153.54 L702.34,154.70 L702.91,155.85 L703.48,157.01 L704.05,158.16 L704.63,159.31 L705.20,160.45 L705.77,161.59 L706.34,162.73 L706.91,163.87 L707.48,164.99 L708.06,166.12 L708.63,167.24 L709.20,168.36 L709.77,169.47 L710.34,170.57 L710.92,171.67 L711.49,172.76 L712.06,173.85 L712.63,174.93 L713.20,176.00 L713.77,177.07 L714.35,178.13 L714.92,179.18 L715.49,180.22 L716.06,181.26 L716.63,182.28 L717.20,183.30 L717.78,184.31 L718.35,185.31 L718.92,186.31 L719.49,187.29 L720.06,188.27 L720.63,189.23 L721.21,190.19 L721.78,191.14 L722.35,192.07 L722.92,193.00 L723.49,193.92 L724.07,194.83 L724.64,195.72 L725.21,196.61 L725.78,197.49 L726.35,198.36 L726.92,199.21 L727.50,200.06 L728.07,200.90 L728.64,201.72 L729.21,202.54 L729.78,203.35 L730.35,204.14 L730.93,204.93 L731.50,205.70 L732.07,206.46 L732.64,207.22 L733.21,207.96 L733.78,208.69 L734.36,209.41 L734.93,210.12 L735.50,210.83 L736.07,211.52 L736.64,212.20 L737.22,212.87 L737.79,213.53 L738.36,214.18 L738.93,214.82 L739.50,215.45 L740.07,216.07 L740.65,216.68 L741.22,217.28 L741.79,217.87 L742.36,218.45 L742.93,219.02 L743.50,219.58 L744.08,220.13 L744.65,220.67 L745.22,221.21 L745.79,221.73 L746.36,222.25 L746.93,222.75 L747.51,223.25 L748.08,223.74 L748.65,224.22 L749.22,224.69 L749.79,225.16 L750.37,225.61 L750.94,226.06 L751.51,226.50 L752.08,226.93 L752.65,227.35 L753.22,227.76 L753.80,228.17 L754.37,228.57 L754.94,228.96 L755.51,229.35 L756.08,229.72 L756.65,230.09 L757.23,230.46 L757.80,230.81 L758.37,231.16 L758.94,231.50 L759.51,231.84 L760.08,232.17 L760.66,232.49 L761.23,232.80 L761.80,233.11 L762.37,233.42 L762.94,233.71 L763.52,234.01 L764.09,234.29 L764.66,234.57 L765.23,234.85 L765.80,235.11 L766.37,235.38 L766.95,235.63 L767.52,235.89 L768.09,236.13 L768.66,236.38 L769.23,236.61 L769.80,236.85 L770.38,237.07 L770.95,237.30 L771.52,237.51 L772.09,237.73 L772.66,237.94 L773.23,238.14 L773.81,238.34 L774.38,238.54 L774.95,238.73 L775.52,238.92 L776.09,239.10 L776.67,239.28 L777.24,239.46 L777.81,239.63 L778.38,239.80 L778.95,239.96 L779.52,240.13 L780.10,240.28 L780.67,240.44 L781.24,240.59 L781.81,240.74 L782.38,240.88 L782.95,241.02 L783.53,241.16 L784.10,241.30 L784.67,241.43 L785.24,241.56 L785.81,241.69 L786.38,241.81 L786.96,241.93 L787.53,242.05 L788.10,242.17 L788.67,242.28 L789.24,242.39 L789.82,242.50 L790.39,242.61 L790.96,242.71 L791.53,242.81 L792.10,242.91 L792.67,243.01 L793.25,243.11 L793.82,243.20 L794.39,243.29 L794.96,243.38 L795.53,243.46 L796.10,243.55 L796.68,243.63 L797.25,243.71 L797.82,243.79 L798.39,243.87 L798.96,243.95 L799.53,244.02 L800.11,244.09 L800.68,244.16 L801.25,244.23 L801.82,244.30 L802.39,244.37 L802.97,244.43 L803.54,244.49 L804.11,244.56 L804.68,244.62 L805.25,244.68 L805.82,244.73 L806.40,244.79 L806.97,244.85 L807.54,244.90 L808.11,244.95 L808.68,245.00 L809.25,245.05 L809.83,245.10 L810.40,245.15 L810.97,245.20 L811.54,245.24 L812.11,245.29 L812.68,245.33 L813.26,245.38 L813.83,245.42 L814.40,245.46" stroke="#000" stroke-width="1.40" />
<path d="M643.45,80.56 L644.02,80.90 L644.59,81.24 L645.17,81.59 L645.74,81.95 L646.31,82.32 L646.88,82.69 L647.45,83.07 L648.02,83.46 L648.60,83.85 L649.17,84.25 L649.74,84.66 L650.31,85.08 L650.88,85.50 L651.45,85.94 L652.03,86.38 L652.60,86.82 L653.17,87.28 L653.74,87.74 L654.31,88.22 L654.88,88.70 L655.46,89.19 L656.03,89.68 L656.60,90.19 L657.17,90.70 L657.74,91.23 L658.32,91.76 L658.89,92.30 L659.46,92.85 L660.03,93.41 L660.60,93.98 L661.17,94.55 L661.75,95.14 L662.32,95.74 L662.89,96.34 L663.46,96.96 L664.03,97.58 L664.60,98.21 L665.18,98.86 L665.75,99.51 L666.32,100.17 L666.89,100.84 L667.46,101.52 L668.03,102.21 L668.61,102.91 L669.18,103.62 L669.75,104.34 L670.32,105.07 L670.89,105.81 L671.47,106.56 L672.04,107.31 L672.61,108.08 L673.18,108.86 L673.75,109.64 L674.32,110.44 L674.90,111.24 L675.47,112.06 L676.04,112.88 L676.61,113.71 L677.18,114.56 L677.75,115.41 L678.33,116.27 L678.90,117.14 L679.47,118.01 L680.04,118.90 L680.61,119.79 L681.18,120.70 L681.76,121.61 L682.33,122.53 L682.90,123.45 L683.47,124.39 L684.04,125.33 L684.62,126.28 L685.19,127.24 L685.76,128.20 L686.33,129.18 L686.90,130.15 L687.47,131.14 L688.05,132.13 L688.62,133.13 L689.19,134.13 L689.76,135.14 L690.33,136.15 L690.90,137.17 L691.48,138.20 L692.05,139.22 L692.62,140.26 L693.19,141.30 L693.76,142.34 L694.33,143.38 L694.91,144.43 L695.48,145.48 L696.05,146.54 L696.62,147.60 L697.19,148.65 L697.77,149.72 L698.34,150.78 L698.91,151.84 L699.48,152.91 L700.05,153.98 L700.62,155.04 L701.20,156.11 L701.77,157.18 L702.34,158.25 L702.91,159.31 L703.48,160.38 L704.05,161.44 L704.63,162.51 L705.20,163.57 L705.77,164.63 L706.34,165.68 L706.91,166.74 L707.48,167.79 L708.06,168.84 L708.63,169.88 L709.20,170.92 L709.77,171.96 L710.34,172.99 L710.92,174.02 L711.49,175.05 L712.06,176.07 L712.63,177.08 L713.20,178.09 L713.77,179.09 L714.35,180.09 L714.92,181.08 L715.49,182.06 L716.06,183.04 L716.63,184.01 L717.20,184.97 L717.78,185.93 L718.35,186.88 L718.92,187.82 L719.49,188.75 L720.06,189.68 L720.63,190.60 L721.21,191.51 L721.78,192.41 L722.35,193.30 L722.92,194.19 L723.49,195.06 L724.07,195.93 L724.64,196.79 L725.21,197.64 L725.78,198.48 L726.35,199.31 L726.92,200.14 L727.50,200.95 L728.07,201.75 L728.64,202.55 L729.21,203.33 L729.78,204.11 L730.35,204.87 L730.93,205.63 L731.50,206.38 L732.07,207.11 L732.64,207.84 L733.21,208.56 L733.78,209.27 L734.36,209.97 L734.93,210.66 L735.50,211.34 L736.07,212.01 L736.64,212.67 L737.22,213.32 L737.79,213.96 L738.36,214.59 L738.93,215.21 L739.50,215.83 L740.07,216.43 L740.65,217.03 L741.22,217.61 L741.79,218.19 L742.36,218.75 L742.93,219.31 L743.50,219.86 L744.08,220.40 L744.65,220.93 L745.22,221.45 L745.79,221.97 L746.36,222.47 L746.93,222.97 L747.51,223.46 L748.08,223.94 L748.65,224.41 L749.22,224.87 L749.79,225.33 L750.37,225.77 L750.94,226.21 L751.51,226.64 L752.08,227.07 L752.65,227.48 L753.22,227.89 L753.80,228.29 L754.37,228.68 L754.94,229.07 L755.51,229.45 L756.08,229.82 L756.65,230.19 L757.23,230.54 L757.80,230.89 L758.37,231.24 L758.94,231.58 L759.51,231.91 L760.08,232.23 L760.66,232.55 L761.23,232.86 L761.80,233.17 L762.37,233.47 L762.94,233.77 L763.52,234.05 L764.09,234.34 L764.66,234.61 L765.23,234.89 L765.80,235.15 L766.37,235.41 L766.95,235.67 L767.52,235.92 L768.09,236.16 L768.66,236.40 L769.23,236.64 L769.80,236.87 L770.38,237.10 L770.95,237.32 L771.52,237.53 L772.09,237.75 L772.66,237.95 L773.23,238.16 L773.81,238.36 L774.38,238.55 L774.95,238.74 L775.52,238.93 L776.09,239.11 L776.67,239.29 L777.24,239.47 L777.81,239.64 L778.38,239.81 L778.95,239.97 L779.52,240.13 L780.10,240.29 L780.67,240.44 L781.24,240.59 L781.81,240.74 L782.38,240.89 L782.95,241.03 L783.53,241.17 L784.10,241.30 L784.67,241.43 L785.24,241.56 L785.81,241.69 L786.38,241.81 L786.96,241.93 L787.53,242.05 L788.10,242.17 L788.67,242.28 L789.24,242.39 L789.82,242.50 L790.39,242.61 L790.96,242.71 L791.53,242.81 L792.10,242.91 L792.67,243.01 L793.25,243.11 L793.82,243.20 L794.39,243.29 L794.96,243.38 L795.53,243.46 L796.10,243.55 L796.68,243.63 L797.25,243.71 L797.82,243.79 L798.39,243.87 L798.96,243.95 L799.53,244.02 L800.11,244.09 L800.68,244.16 L801.25,244.23 L801.82,244.30 L802.39,244.37 L802.97,244.43 L803.54,244.49 L804.11,244.56 L804.68,244.62 L805.25,244.68 L805.82,244.73 L806.40,244.79 L806.97,244.85 L807.54,244.90 L808.11,244.95 L808.68,245.00 L809.25,245.05 L809.83,245.10 L810.40,245.15 L810.97,245.20 L811.54,245.24 L812.11,245.29 L812.68,245.33 L813.26,245.38 L813.83,245.42 L814.40,245.46" stroke="#800000" stroke-width="1.40" />
<path d="M642.85,67.60 L643.42,68.00 L643.99,68.40 L644.57,68.81 L645.14,69.23 L645.71,69.66 L646.28,70.09 L646.85,70.53 L647.42,70.99 L648.00,71.45 L648.57,71.91 L649.14,72.39 L649.71,72.87 L650.28,73.37 L650.85,73.87 L651.43,74.38 L652.00,74.90 L652.57,75.43 L653.14,75.97 L653.71,76.52 L654.28,77.08 L654.86,77.64 L655.43,78.22 L656.00,78.80 L656.57,79.40 L657.14,80.01 L657.72,80.62 L658.29,81.25 L658.86,81.88 L659.43,82.53 L660.00,83.18 L660.57,83.85 L661.15,84.52 L661.72,85.21 L662.29,85.91 L662.86,86.61 L663.43,87.33 L664.00,88.06 L664.58,88.80 L665.15,89.54 L665.72,90.30 L666.29,91.07 L666.86,91.85 L667.43,92.64 L668.01,93.44 L668.58,94.25 L669.15,95.08 L669.72,95.91 L670.29,96.75 L670.87,97.60 L671.44,98.46 L672.01,99.34 L672.58,100.22 L673.15,101.11 L673.72,102.02 L674.30,102.93 L674.87,103.85 L675.44,104.79 L676.01,105.73 L676.58,106.68 L677.15,107.64 L677.73,108.62 L678.30,109.60 L678.87,110.58 L679.44,111.58 L680.01,112.59 L680.58,113.60 L681.16,114.63 L681.73,115.66 L682.30,116.70 L682.87,117.75 L683.44,118.80 L684.02,119.86 L684.59,120.93 L685.16,122.01 L685.73,123.09 L686.30,124.18 L686.87,125.28 L687.45,126.38 L688.02,127.49 L688.59,128.60 L689.16,129.72 L689.73,130.84 L690.30,131.97 L690.88,133.10 L691.45,134.24 L692.02,135.38 L692.59,136.52 L693.16,137.67 L693.73,138.82 L694.31,139.97 L694.88,141.13 L695.45,142.28 L696.02,143.44 L696.59,144.60 L697.17,145.76 L697.74,146.92 L698.31,148.09 L698.88,149.25 L699.45,150.41 L700.02,151.57 L700.60,152.73 L701.17,153.89 L701.74,155.05 L702.31,156.20 L702.88,157.36 L703.45,158.51 L704.03,159.66 L704.60,160.80 L705.17,161.94 L705.74,163.08 L706.31,164.22 L706.88,165.34 L707.46,166.47 L708.03,167.59 L708.60,168.71 L709.17,169.82 L709.74,170.92 L710.32,172.02 L710.89,173.11 L711.46,174.20 L712.03,175.28 L712.60,176.35 L713.17,177.42 L713.75,178.48 L714.32,179.53 L714.89,180.57 L715.46,181.61 L716.03,182.63 L716.60,183.65 L717.18,184.66 L717.75,185.66 L718.32,186.66 L718.89,187.64 L719.46,188.62 L720.03,189.58 L720.61,190.54 L721.18,191.49 L721.75,192.42 L722.32,193.35 L722.89,194.27 L723.47,195.18 L724.04,196.07 L724.61,196.96 L725.18,197.84 L725.75,198.71 L726.32,199.56 L726.90,200.41 L727.47,201.25 L728.04,202.07 L728.61,202.89 L729.18,203.70 L729.75,204.49 L730.33,205.28 L730.90,206.05 L731.47,206.81 L732.04,207.57 L732.61,208.31 L733.18,209.04 L733.76,209.76 L734.33,210.47 L734.90,211.18 L735.47,211.87 L736.04,212.55 L736.62,213.22 L737.19,213.88 L737.76,214.53 L738.33,215.17 L738.90,215.80 L739.47,216.42 L740.05,217.03 L740.62,217.63 L741.19,218.22 L741.76,218.80 L742.33,219.37 L742.90,219.93 L743.48,220.48 L744.05,221.02 L744.62,221.56 L745.19,222.08 L745.76,222.60 L746.33,223.10 L746.91,223.60 L747.48,224.09 L748.05,224.57 L748.62,225.04 L749.19,225.51 L749.77,225.96 L750.34,226.41 L750.91,226.85 L751.48,227.28 L752.05,227.70 L752.62,228.11 L753.20,228.52 L753.77,228.92 L754.34,229.31 L754.91,229.70 L755.48,230.07 L756.05,230.44 L756.63,230.81 L757.20,231.16 L757.77,231.51 L758.34,231.85 L758.91,232.19 L759.48,232.52 L760.06,232.84 L760.63,233.15 L761.20,233.46 L761.77,233.77 L762.34,234.06 L762.92,234.36 L763.49,234.64 L764.06,234.92 L764.63,235.20 L765.20,235.46 L765.77,235.73 L766.35,235.98 L766.92,236.24 L767.49,236.48 L768.06,236.73 L768.63,236.96 L769.20,237.20 L769.78,237.42 L770.35,237.65 L770.92,237.86 L771.49,238.08 L772.06,238.29 L772.63,238.49 L773.21,238.69 L773.78,238.89 L774.35,239.08 L774.92,239.27 L775.49,239.45 L776.07,239.63 L776.64,239.81 L777.21,239.98 L777.78,240.15 L778.35,240.31 L778.92,240.48 L779.50,240.63 L780.07,240.79 L780.64,240.94 L781.21,241.09 L781.78,241.23 L782.35,241.37 L782.93,241.51 L783.50,241.65 L784.07,241.78 L784.64,241.91 L785.21,242.04 L785.78,242.16 L786.36,242.28 L786.93,242.40 L787.50,242.52 L788.07,242.63 L788.64,242.74 L789.22,242.85 L789.79,242.96 L790.36,243.06 L790.93,243.16 L791.50,243.26 L792.07,243.36 L792.65,243.46 L793.22,243.55 L793.79,243.64 L794.36,243.73 L794.93,243.81 L795.50,243.90 L796.08,243.98 L796.65,244.06 L797.22,244.14 L797.79,244.22 L798.36,244.30 L798.93,244.37 L799.51,244.44 L800.08,244.51 L800.65,244.58 L801.22,244.65 L801.79,244.72 L802.37,244.78 L802.94,244.84 L803.51,244.91 L804.08,244.97 L804.65,245.03 L805.22,245.08 L805.80,245.14 L806.37,245.20 L806.94,245.25 L807.51,245.30 L808.08,245.35 L808.65,245.40 L809.23,245.45 L809.80,245.50 L810.37,245.55 L810.94,245.59 L811.51,245.64 L812.08,245.68 L812.66,245.73 L813.23,245.77 L813.80,245.81" stroke="#00ff00" stroke-width="0.85" stroke-dasharray="1.6 1.3" />
</g>
<g stroke="#000" stroke-width="1.20" fill="none">
<rect x="453.40" y="24.00" width="361.00" height="248.00"/>
<line x1="643.45" y1="24.00" x2="643.45" y2="272.00"/>
</g>
<path d="M453.40,272.00 v4.00 M453.40,24.00 v4.00 M482.01,272.00 v2.00 M482.01,24.00 v2.00 M498.74,272.00 v2.00 M498.74,24.00 v2.00 M510.61,272.00 v2.00 M510.61,24.00 v2.00 M519.82,272.00 v2.00 M519.82,24.00 v2.00 M527.34,272.00 v2.00 M527.34,24.00 v2.00 M533.71,272.00 v2.00 M533.71,24.00 v2.00 M539.22,272.00 v2.00 M539.22,24.00 v2.00 M544.08,272.00 v2.00 M544.08,24.00 v2.00 M548.42,272.00 v4.00 M548.42,24.00 v4.00 M577.03,272.00 v2.00 M577.03,24.00 v2.00 M593.76,272.00 v2.00 M593.76,24.00 v2.00 M605.64,272.00 v2.00 M605.64,24.00 v2.00 M614.84,272.00 v2.00 M614.84,24.00 v2.00 M622.37,272.00 v2.00 M622.37,24.00 v2.00 M628.73,272.00 v2.00 M628.73,24.00 v2.00 M634.24,272.00 v2.00 M634.24,24.00 v2.00 M639.10,272.00 v2.00 M639.10,24.00 v2.00 M643.45,272.00 v4.00 M643.45,24.00 v4.00 M453.40,272.00 h-4.00 M643.45,272.00 h-3.40 M814.40,272.00 h-3.00 M453.40,247.20 h-2.20 M643.45,247.20 h-1.87 M814.40,247.20 h-1.65 M453.40,222.40 h-4.00 M643.45,222.40 h-3.40 M814.40,222.40 h-3.00 M453.40,197.60 h-2.20 M643.45,197.60 h-1.87 M814.40,197.60 h-1.65 M453.40,172.80 h-4.00 M643.45,172.80 h-3.40 M814.40,172.80 h-3.00 M453.40,148.00 h-2.20 M643.45,148.00 h-1.87 M814.40,148.00 h-1.65 M453.40,123.20 h-4.00 M643.45,123.20 h-3.40 M814.40,123.20 h-3.00 M453.40,98.40 h-2.20 M643.45,98.40 h-1.87 M814.40,98.40 h-1.65 M453.40,73.60 h-4.00 M643.45,73.60 h-3.40 M814.40,73.60 h-3.00 M453.40,48.80 h-2.20 M643.45,48.80 h-1.87 M814.40,48.80 h-1.65 M453.40,24.00 h-4.00 M643.45,24.00 h-3.40 M814.40,24.00 h-3.00 M643.03,272.00 v1.80 M643.03,24.00 v1.80 M657.07,272.00 v1.80 M657.07,24.00 v1.80 M667.96,272.00 v1.80 M667.96,24.00 v1.80 M676.86,272.00 v1.80 M676.86,24.00 v1.80 M684.39,272.00 v1.80 M684.39,24.00 v1.80 M690.91,272.00 v1.80 M690.91,24.00 v1.80 M696.66,272.00 v1.80 M696.66,24.00 v1.80 M701.80,272.00 v3.20 M701.80,24.00 v3.20 M735.64,272.00 v1.80 M735.64,24.00 v1.80 M755.43,272.00 v1.80 M755.43,24.00 v1.80 M769.47,272.00 v1.80 M769.47,24.00 v1.80 M780.36,272.00 v1.80 M780.36,24.00 v1.80 M789.26,272.00 v1.80 M789.26,24.00 v1.80 M796.79,272.00 v1.80 M796.79,24.00 v1.80 M803.31,272.00 v1.80 M803.31,24.00 v1.80 M809.06,272.00 v1.80 M809.06,24.00 v1.80 M814.20,272.00 v3.20 M814.20,24.00 v3.20" stroke="#000" stroke-width="1.0" fill="none"/>
<line x1="100" y1="13.3" x2="139.8" y2="13.3" stroke="#000" stroke-width="1.8"/>
<line x1="143.6" y1="13.3" x2="183.7" y2="13.3" stroke="#0000ff" stroke-width="1.8"/>
<text x="187.90" y="18.90" font-family='"Liberation Serif", serif' font-size="17.20px" text-anchor="start" fill="#000" >local</text>
<line x1="227.6" y1="5.6" x2="227.6" y2="23.6" stroke="#000" stroke-width="1.2"/>
<text x="232.90" y="18.90" font-family='"Liberation Serif", serif' font-size="17.20px" text-anchor="start" fill="#000" >nonlocal</text>
<line x1="296.7" y1="13.3" x2="332.6" y2="13.3" stroke="#ff0000" stroke-width="1.8" stroke-dasharray="5.6 4.35"/>
<line x1="340.0" y1="13.3" x2="376.0" y2="13.3" stroke="#00ffff" stroke-width="1.8" stroke-dasharray="5.6 4.35"/>
<text x="69.60" y="44.20" font-family='"Liberation Serif", serif' font-size="25.00px" text-anchor="start" fill="#000" >(a)</text>
<text x="454.80" y="43.50" font-family='"Liberation Serif", serif' font-size="25.00px" text-anchor="start" fill="#000" >(b)</text>
<text x="645.60" y="46.10" font-family='"Liberation Serif", serif' font-size="25.00px" text-anchor="start" fill="#000" >(c)</text>
<text x="286.30" y="41.70" font-family='"Liberation Serif", serif' font-size="13.70px" text-anchor="start" fill="#000" >LSPR(0.1 mol/m<tspan font-size="8.00px" dy="-6.60">3</tspan><tspan dy="6.6">)</tspan></text>
<text x="107.30" y="113.20" font-family='"Liberation Serif", serif' font-size="13.70px" text-anchor="start" fill="#000" >LSPR(1 mol/m<tspan font-size="8.00px" dy="-6.60">3</tspan><tspan dy="6.6">)</tspan></text>
<text x="320.60" y="114.80" font-family='"Liberation Serif", serif' font-size="13.70px" text-anchor="start" fill="#000" >R = 50 nm</text>
<text x="317.50" y="202.70" font-family='"Liberation Serif", serif' font-size="13.70px" text-anchor="start" fill="#000" >R = 5 nm</text>
<text x="59.60" y="99.96" font-family='"Liberation Serif", serif' font-size="17.70px" text-anchor="end" fill="#000" >10<tspan font-size="9.60px" dy="-7.40">-4</tspan></text>
<text x="59.60" y="189.23" font-family='"Liberation Serif", serif' font-size="17.70px" text-anchor="end" fill="#000" >10<tspan font-size="9.60px" dy="-7.40">-5</tspan></text>
<text x="59.60" y="278.50" font-family='"Liberation Serif", serif' font-size="17.70px" text-anchor="end" fill="#000" >10<tspan font-size="9.60px" dy="-7.40">-6</tspan></text>
<text x="152.15" y="296.40" font-family='"Liberation Serif", serif' font-size="21.00px" text-anchor="middle" fill="#000" >1</text>
<text x="314.65" y="296.40" font-family='"Liberation Serif", serif' font-size="21.00px" text-anchor="middle" fill="#000" >10</text>
<text x="238.40" y="319.50" font-family='"Liberation Serif", serif' font-size="25.20px" text-anchor="middle" fill="#000" >Wavelength (mm)</text>
<g transform="translate(28.8,132.6) rotate(-90)">
<text x="0.00" y="0.00" font-family='"Liberation Serif", serif' font-size="25.00px" text-anchor="middle" fill="#000" >σ (πR<tspan font-size="15.5px" dy="-12.6" dx="0.7">2</tspan><tspan dy="12.6">)</tspan></text>
</g>
<text x="447.00" y="277.30" font-family='"Liberation Serif", serif' font-size="20.60px" text-anchor="end" fill="#000" >0</text>
<text x="447.00" y="227.70" font-family='"Liberation Serif", serif' font-size="20.60px" text-anchor="end" fill="#000" >2</text>
<text x="447.00" y="178.10" font-family='"Liberation Serif", serif' font-size="20.60px" text-anchor="end" fill="#000" >4</text>
<text x="447.00" y="128.50" font-family='"Liberation Serif", serif' font-size="20.60px" text-anchor="end" fill="#000" >6</text>
<text x="447.00" y="78.90" font-family='"Liberation Serif", serif' font-size="20.60px" text-anchor="end" fill="#000" >8</text>
<text x="447.00" y="29.30" font-family='"Liberation Serif", serif' font-size="20.60px" text-anchor="end" fill="#000" >10</text>
<text x="453.70" y="297.50" font-family='"Liberation Serif", serif' font-size="20.00px" text-anchor="middle" fill="#000" >10<tspan font-size="11.20px" dy="-8.60">1</tspan></text>
<text x="549.42" y="297.50" font-family='"Liberation Serif", serif' font-size="20.00px" text-anchor="middle" fill="#000" >10<tspan font-size="11.20px" dy="-8.60">2</tspan></text>
<text x="700.50" y="290.80" font-family='"Liberation Serif", serif' font-size="17.30px" text-anchor="middle" fill="#000" >0.1</text>
<text x="814.20" y="290.80" font-family='"Liberation Serif", serif' font-size="17.30px" text-anchor="middle" fill="#000" >1</text>
<text x="634.90" y="324.00" font-family='"Liberation Serif", serif' font-size="24.40px" text-anchor="middle" fill="#000" >Frequency (GHz)</text>
<g transform="translate(419.6,170.6) rotate(-90)">
<text x="0.00" y="0.00" font-family='"Liberation Serif", serif' font-size="25.00px" text-anchor="start" fill="#000" >|E/E<tspan font-size="15.5px" dy="7.6" dx="-1.2">0</tspan><tspan dy="-7.6" dx="-0.6">|</tspan><tspan font-size="16px" dy="-12.4" dx="-0.6">2</tspan></text>
</g>
<line x1="586.7" y1="13.3" x2="625.0" y2="13.3" stroke="#000" stroke-width="1.5"/>
<text x="630.00" y="18.90" font-family='"Liberation Serif", serif' font-size="16.60px" text-anchor="start" fill="#000" >local</text>
<text x="546.00" y="43.30" font-family='"Liberation Serif", serif' font-size="17.00px" text-anchor="start" fill="#000" >1 mol/m<tspan font-size="9.80px" dy="-8.20">3</tspan></text>
<text x="545.60" y="64.60" font-family='"Liberation Serif", serif' font-size="17.00px" text-anchor="start" fill="#000" >nonlocal, R =</text>
<line x1="544.3" y1="80.30" x2="583.7" y2="80.30" stroke="#008080" stroke-width="1.4"/>
<text x="635.00" y="85.80" font-family='"Liberation Serif", serif' font-size="17.00px" text-anchor="end" fill="#000" >0.5 nm</text>
<line x1="544.3" y1="101.75" x2="583.7" y2="101.75" stroke="#ff0000" stroke-width="1.4"/>
<text x="635.00" y="107.25" font-family='"Liberation Serif", serif' font-size="17.00px" text-anchor="end" fill="#000" >5 nm</text>
<line x1="544.3" y1="123.20" x2="583.7" y2="123.20" stroke="#0000ff" stroke-width="1.4"/>
<text x="635.00" y="128.70" font-family='"Liberation Serif", serif' font-size="17.00px" text-anchor="end" fill="#000" >50 nm</text>
<text x="454.40" y="270.80" font-family='"Liberation Serif", serif' font-size="17.40px" text-anchor="start" fill="#000" >D ≠ 0</text>
<line x1="498.2" y1="264.8" x2="535.2" y2="264.8" stroke="#008080" stroke-width="1.4" stroke-dasharray="1.6 2.05"/>
<text x="542.80" y="270.60" font-family='"Liberation Serif", serif' font-size="17.40px" text-anchor="start" fill="#000" >R = 0.5 nm</text>
<text x="715.60" y="44.90" font-family='"Liberation Serif", serif' font-size="15.75px" text-anchor="start" fill="#000" >0.001 mol/m<tspan font-size="9.00px" dy="-7.60">3</tspan></text>
<text x="715.60" y="63.90" font-family='"Liberation Serif", serif' font-size="15.75px" text-anchor="start" fill="#000" >nonlocal, R =</text>
<line x1="716.3" y1="77.60" x2="751.0" y2="77.60" stroke="#0000ff" stroke-width="1.2"/>
<text x="808.80" y="82.70" font-family='"Liberation Serif", serif' font-size="15.75px" text-anchor="end" fill="#000" >50 nm</text>
<line x1="716.3" y1="96.80" x2="751.0" y2="96.80" stroke="#800000" stroke-width="1.4"/>
<text x="808.80" y="101.90" font-family='"Liberation Serif", serif' font-size="15.75px" text-anchor="end" fill="#000" >500 nm</text>
<line x1="716.3" y1="116.00" x2="751.0" y2="116.00" stroke="#00ff00" stroke-width="1.0" stroke-dasharray="1.5 1.5"/>
<text x="808.80" y="121.10" font-family='"Liberation Serif", serif' font-size="15.75px" text-anchor="end" fill="#000" >5000 nm</text>
</svg>
</body></html>
